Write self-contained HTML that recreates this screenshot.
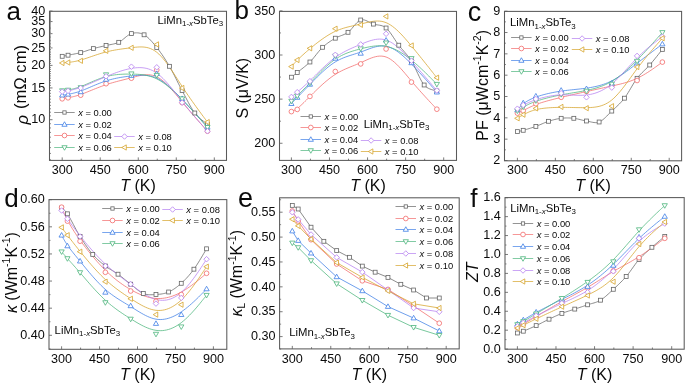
<!DOCTYPE html>
<html><head><meta charset="utf-8"><style>
html,body{margin:0;padding:0;background:#fff;width:685px;height:384px;overflow:hidden}
svg{display:block;will-change:transform;filter:blur(0.3px)}
text{font-family:"Liberation Sans", sans-serif;fill:#0a0a0a}
</style></head><body>
<svg width="685" height="384" viewBox="0 0 685 384">
<rect width="685" height="384" fill="#fff"/>
<rect x="49.5" y="11.3" width="177" height="149.1" fill="none" stroke="#5a5a5a" stroke-width="1.05"/>
<line x1="62.2" y1="160.4" x2="62.2" y2="157.4" stroke="#5a5a5a" stroke-width="0.8"/>
<text x="62.2" y="174" font-size="12.6" text-anchor="middle">300</text>
<line x1="100.23" y1="160.4" x2="100.23" y2="157.4" stroke="#5a5a5a" stroke-width="0.8"/>
<text x="100.23" y="174" font-size="12.6" text-anchor="middle">450</text>
<line x1="138.25" y1="160.4" x2="138.25" y2="157.4" stroke="#5a5a5a" stroke-width="0.8"/>
<text x="138.25" y="174" font-size="12.6" text-anchor="middle">600</text>
<line x1="176.28" y1="160.4" x2="176.28" y2="157.4" stroke="#5a5a5a" stroke-width="0.8"/>
<text x="176.28" y="174" font-size="12.6" text-anchor="middle">750</text>
<line x1="214.3" y1="160.4" x2="214.3" y2="157.4" stroke="#5a5a5a" stroke-width="0.8"/>
<text x="214.3" y="174" font-size="12.6" text-anchor="middle">900</text>
<line x1="81.21" y1="160.4" x2="81.21" y2="158.7" stroke="#5a5a5a" stroke-width="0.8"/>
<line x1="119.24" y1="160.4" x2="119.24" y2="158.7" stroke="#5a5a5a" stroke-width="0.8"/>
<line x1="157.26" y1="160.4" x2="157.26" y2="158.7" stroke="#5a5a5a" stroke-width="0.8"/>
<line x1="195.29" y1="160.4" x2="195.29" y2="158.7" stroke="#5a5a5a" stroke-width="0.8"/>
<text x="138" y="191" font-size="16" text-anchor="middle"><tspan font-style="italic">T</tspan> (K)</text>
<line x1="49.5" y1="119.7" x2="52.5" y2="119.7" stroke="#5a5a5a" stroke-width="0.8"/>
<text x="45.3" y="123.4" font-size="12.6" text-anchor="end">10</text>
<line x1="49.5" y1="87.94" x2="52.5" y2="87.94" stroke="#5a5a5a" stroke-width="0.8"/>
<text x="45.3" y="91.64" font-size="12.6" text-anchor="end">15</text>
<line x1="49.5" y1="65.4" x2="52.5" y2="65.4" stroke="#5a5a5a" stroke-width="0.8"/>
<text x="45.3" y="69.1" font-size="12.6" text-anchor="end">20</text>
<line x1="49.5" y1="47.92" x2="52.5" y2="47.92" stroke="#5a5a5a" stroke-width="0.8"/>
<text x="45.3" y="51.62" font-size="12.6" text-anchor="end">25</text>
<line x1="49.5" y1="33.64" x2="52.5" y2="33.64" stroke="#5a5a5a" stroke-width="0.8"/>
<text x="45.3" y="37.34" font-size="12.6" text-anchor="end">30</text>
<line x1="49.5" y1="21.56" x2="52.5" y2="21.56" stroke="#5a5a5a" stroke-width="0.8"/>
<text x="45.3" y="25.26" font-size="12.6" text-anchor="end">35</text>
<line x1="49.5" y1="11.1" x2="52.5" y2="11.1" stroke="#5a5a5a" stroke-width="0.8"/>
<text x="45.3" y="14.8" font-size="12.6" text-anchor="end">40</text>
<line x1="49.5" y1="159.72" x2="51" y2="159.72" stroke="#5a5a5a" stroke-width="0.7"/>
<line x1="49.5" y1="153.45" x2="51" y2="153.45" stroke="#5a5a5a" stroke-width="0.7"/>
<line x1="49.5" y1="147.64" x2="51" y2="147.64" stroke="#5a5a5a" stroke-width="0.7"/>
<line x1="49.5" y1="142.24" x2="51" y2="142.24" stroke="#5a5a5a" stroke-width="0.7"/>
<line x1="49.5" y1="137.18" x2="51" y2="137.18" stroke="#5a5a5a" stroke-width="0.7"/>
<line x1="49.5" y1="132.43" x2="51" y2="132.43" stroke="#5a5a5a" stroke-width="0.7"/>
<line x1="49.5" y1="127.95" x2="51" y2="127.95" stroke="#5a5a5a" stroke-width="0.7"/>
<line x1="49.5" y1="123.72" x2="51" y2="123.72" stroke="#5a5a5a" stroke-width="0.7"/>
<line x1="49.5" y1="115.88" x2="51" y2="115.88" stroke="#5a5a5a" stroke-width="0.7"/>
<line x1="49.5" y1="112.23" x2="51" y2="112.23" stroke="#5a5a5a" stroke-width="0.7"/>
<line x1="49.5" y1="108.75" x2="51" y2="108.75" stroke="#5a5a5a" stroke-width="0.7"/>
<line x1="49.5" y1="105.42" x2="51" y2="105.42" stroke="#5a5a5a" stroke-width="0.7"/>
<line x1="49.5" y1="102.22" x2="51" y2="102.22" stroke="#5a5a5a" stroke-width="0.7"/>
<line x1="49.5" y1="99.15" x2="51" y2="99.15" stroke="#5a5a5a" stroke-width="0.7"/>
<line x1="49.5" y1="96.19" x2="51" y2="96.19" stroke="#5a5a5a" stroke-width="0.7"/>
<line x1="49.5" y1="93.34" x2="51" y2="93.34" stroke="#5a5a5a" stroke-width="0.7"/>
<line x1="49.5" y1="90.59" x2="51" y2="90.59" stroke="#5a5a5a" stroke-width="0.7"/>
<line x1="49.5" y1="85.37" x2="51" y2="85.37" stroke="#5a5a5a" stroke-width="0.7"/>
<line x1="49.5" y1="82.88" x2="51" y2="82.88" stroke="#5a5a5a" stroke-width="0.7"/>
<line x1="49.5" y1="80.47" x2="51" y2="80.47" stroke="#5a5a5a" stroke-width="0.7"/>
<line x1="49.5" y1="78.13" x2="51" y2="78.13" stroke="#5a5a5a" stroke-width="0.7"/>
<line x1="49.5" y1="75.86" x2="51" y2="75.86" stroke="#5a5a5a" stroke-width="0.7"/>
<line x1="49.5" y1="73.65" x2="51" y2="73.65" stroke="#5a5a5a" stroke-width="0.7"/>
<line x1="49.5" y1="71.51" x2="51" y2="71.51" stroke="#5a5a5a" stroke-width="0.7"/>
<line x1="49.5" y1="69.42" x2="51" y2="69.42" stroke="#5a5a5a" stroke-width="0.7"/>
<line x1="49.5" y1="67.38" x2="51" y2="67.38" stroke="#5a5a5a" stroke-width="0.7"/>
<line x1="49.5" y1="63.47" x2="51" y2="63.47" stroke="#5a5a5a" stroke-width="0.7"/>
<line x1="49.5" y1="61.58" x2="51" y2="61.58" stroke="#5a5a5a" stroke-width="0.7"/>
<line x1="49.5" y1="59.73" x2="51" y2="59.73" stroke="#5a5a5a" stroke-width="0.7"/>
<line x1="49.5" y1="57.93" x2="51" y2="57.93" stroke="#5a5a5a" stroke-width="0.7"/>
<line x1="49.5" y1="56.17" x2="51" y2="56.17" stroke="#5a5a5a" stroke-width="0.7"/>
<line x1="49.5" y1="54.45" x2="51" y2="54.45" stroke="#5a5a5a" stroke-width="0.7"/>
<line x1="49.5" y1="52.77" x2="51" y2="52.77" stroke="#5a5a5a" stroke-width="0.7"/>
<line x1="49.5" y1="51.12" x2="51" y2="51.12" stroke="#5a5a5a" stroke-width="0.7"/>
<line x1="49.5" y1="49.5" x2="51" y2="49.5" stroke="#5a5a5a" stroke-width="0.7"/>
<line x1="49.5" y1="46.37" x2="51" y2="46.37" stroke="#5a5a5a" stroke-width="0.7"/>
<line x1="49.5" y1="44.85" x2="51" y2="44.85" stroke="#5a5a5a" stroke-width="0.7"/>
<line x1="49.5" y1="43.35" x2="51" y2="43.35" stroke="#5a5a5a" stroke-width="0.7"/>
<line x1="49.5" y1="41.89" x2="51" y2="41.89" stroke="#5a5a5a" stroke-width="0.7"/>
<line x1="49.5" y1="40.45" x2="51" y2="40.45" stroke="#5a5a5a" stroke-width="0.7"/>
<line x1="49.5" y1="39.04" x2="51" y2="39.04" stroke="#5a5a5a" stroke-width="0.7"/>
<line x1="49.5" y1="37.65" x2="51" y2="37.65" stroke="#5a5a5a" stroke-width="0.7"/>
<line x1="49.5" y1="36.29" x2="51" y2="36.29" stroke="#5a5a5a" stroke-width="0.7"/>
<line x1="49.5" y1="34.95" x2="51" y2="34.95" stroke="#5a5a5a" stroke-width="0.7"/>
<line x1="49.5" y1="32.34" x2="51" y2="32.34" stroke="#5a5a5a" stroke-width="0.7"/>
<line x1="49.5" y1="31.07" x2="51" y2="31.07" stroke="#5a5a5a" stroke-width="0.7"/>
<line x1="49.5" y1="29.81" x2="51" y2="29.81" stroke="#5a5a5a" stroke-width="0.7"/>
<line x1="49.5" y1="28.58" x2="51" y2="28.58" stroke="#5a5a5a" stroke-width="0.7"/>
<line x1="49.5" y1="27.37" x2="51" y2="27.37" stroke="#5a5a5a" stroke-width="0.7"/>
<line x1="49.5" y1="26.17" x2="51" y2="26.17" stroke="#5a5a5a" stroke-width="0.7"/>
<line x1="49.5" y1="24.99" x2="51" y2="24.99" stroke="#5a5a5a" stroke-width="0.7"/>
<line x1="49.5" y1="23.83" x2="51" y2="23.83" stroke="#5a5a5a" stroke-width="0.7"/>
<line x1="49.5" y1="22.69" x2="51" y2="22.69" stroke="#5a5a5a" stroke-width="0.7"/>
<line x1="49.5" y1="20.45" x2="51" y2="20.45" stroke="#5a5a5a" stroke-width="0.7"/>
<line x1="49.5" y1="19.35" x2="51" y2="19.35" stroke="#5a5a5a" stroke-width="0.7"/>
<line x1="49.5" y1="18.27" x2="51" y2="18.27" stroke="#5a5a5a" stroke-width="0.7"/>
<line x1="49.5" y1="17.21" x2="51" y2="17.21" stroke="#5a5a5a" stroke-width="0.7"/>
<line x1="49.5" y1="16.16" x2="51" y2="16.16" stroke="#5a5a5a" stroke-width="0.7"/>
<line x1="49.5" y1="15.12" x2="51" y2="15.12" stroke="#5a5a5a" stroke-width="0.7"/>
<line x1="49.5" y1="14.09" x2="51" y2="14.09" stroke="#5a5a5a" stroke-width="0.7"/>
<line x1="49.5" y1="13.08" x2="51" y2="13.08" stroke="#5a5a5a" stroke-width="0.7"/>
<line x1="49.5" y1="12.09" x2="51" y2="12.09" stroke="#5a5a5a" stroke-width="0.7"/>
<text x="6.5" y="19.9" font-size="26">a</text>
<path d="M62.2,56.3 L62.52,56.24 L62.88,56.17 L63.31,56.1 L63.78,56.01 L64.32,55.91 L64.93,55.8 L65.59,55.67 L66.33,55.53 L67.14,55.38 L68.03,55.2 L69.02,55.01 L70.13,54.8 L71.33,54.57 L72.61,54.34 L73.94,54.08 L75.31,53.81 L76.69,53.53 L78.06,53.23 L79.41,52.92 L80.71,52.6 L81.97,52.25 L83.24,51.88 L84.51,51.47 L85.78,51.06 L87.04,50.63 L88.31,50.2 L89.58,49.78 L90.85,49.36 L92.11,48.97 L93.38,48.6 L94.65,48.25 L95.92,47.92 L97.18,47.61 L98.45,47.3 L99.72,47 L100.99,46.7 L102.25,46.41 L103.52,46.11 L104.79,45.81 L106.06,45.5 L107.32,45.21 L108.59,44.95 L109.86,44.72 L111.13,44.49 L112.39,44.25 L113.66,43.98 L114.93,43.67 L116.2,43.29 L117.46,42.84 L118.73,42.3 L120,41.61 L121.27,40.75 L122.53,39.78 L123.8,38.74 L125.07,37.67 L126.34,36.63 L127.6,35.66 L128.87,34.79 L130.14,34.09 L131.41,33.6 L132.67,33.27 L133.94,33.02 L135.21,32.87 L136.48,32.82 L137.74,32.86 L139.01,33.02 L140.28,33.28 L141.55,33.67 L142.81,34.17 L144.08,34.8 L145.35,35.58 L146.62,36.51 L147.88,37.57 L149.15,38.76 L150.42,40.05 L151.69,41.43 L152.95,42.88 L154.22,44.39 L155.49,45.93 L156.76,47.5 L158.02,49.11 L159.29,50.78 L160.56,52.52 L161.83,54.32 L163.09,56.17 L164.36,58.09 L165.63,60.06 L166.9,62.09 L168.16,64.17 L169.43,66.3 L170.7,68.52 L171.97,70.84 L173.23,73.25 L174.5,75.72 L175.77,78.22 L177.04,80.75 L178.3,83.28 L179.57,85.77 L180.84,88.22 L182.11,90.6 L183.37,92.97 L184.64,95.38 L185.91,97.81 L187.18,100.23 L188.44,102.61 L189.71,104.93 L190.98,107.16 L192.25,109.26 L193.51,111.22 L194.78,113 L196.11,114.63 L197.52,116.15 L198.98,117.56 L200.46,118.86 L201.91,120.05 L203.3,121.13 L204.58,122.09 L205.73,122.94 L206.7,123.68 L207.46,124.3" fill="none" stroke="#666666" stroke-width="0.75"/>
<path d="M62.2,98.8 L62.2,98.8 L62.2,98.8 L62.22,98.8 L62.24,98.79 L62.27,98.79 L62.32,98.78 L62.39,98.77 L62.49,98.75 L62.61,98.73 L62.76,98.7 L62.95,98.67 L63.17,98.63 L63.44,98.59 L63.74,98.54 L64.09,98.48 L64.47,98.41 L64.9,98.33 L65.38,98.25 L65.9,98.15 L66.46,98.05 L67.07,97.93 L67.72,97.81 L68.42,97.68 L69.17,97.53 L69.97,97.38 L70.81,97.21 L71.71,97.01 L72.67,96.8 L73.69,96.56 L74.77,96.28 L75.93,95.97 L77.15,95.62 L78.45,95.22 L79.82,94.77 L81.28,94.27 L82.82,93.72 L84.45,93.1 L86.15,92.43 L87.93,91.71 L89.78,90.96 L91.69,90.19 L93.64,89.39 L95.65,88.58 L97.68,87.77 L99.75,86.97 L101.84,86.19 L103.94,85.43 L106.06,84.7 L108.17,84.01 L110.28,83.36 L112.39,82.74 L114.51,82.15 L116.62,81.57 L118.73,81.02 L120.84,80.47 L122.96,79.94 L125.07,79.4 L127.18,78.86 L129.29,78.31 L131.41,77.75 L133.52,77.17 L135.63,76.6 L137.74,76.07 L139.86,75.59 L141.97,75.19 L144.08,74.89 L146.19,74.73 L148.31,74.73 L150.42,74.91 L152.53,75.3 L154.64,75.92 L156.76,76.8 L158.87,77.95 L160.98,79.37 L163.09,81.01 L165.21,82.86 L167.32,84.88 L169.43,87.07 L171.54,89.38 L173.66,91.79 L175.77,94.27 L177.88,96.81 L179.99,99.37 L182.11,101.93 L184.22,104.47 L186.31,106.96 L188.38,109.39 L190.4,111.76 L192.36,114.04 L194.25,116.22 L196.05,118.29 L197.75,120.23 L199.34,122.03 L200.79,123.67 L202.09,125.14 L203.23,126.43 L204.2,127.53 L205.01,128.44 L205.67,129.19 L206.2,129.79 L206.62,130.25 L206.93,130.6 L207.15,130.86 L207.3,131.02 L207.39,131.13 L207.44,131.18 L207.45,131.2 L207.46,131.2" fill="none" stroke="#f26a6a" stroke-width="0.75"/>
<path d="M62.2,95.2 L62.2,95.2 L62.2,95.2 L62.22,95.2 L62.24,95.19 L62.27,95.19 L62.32,95.18 L62.39,95.17 L62.49,95.16 L62.61,95.14 L62.76,95.11 L62.95,95.08 L63.17,95.05 L63.44,95.01 L63.74,94.96 L64.09,94.91 L64.47,94.85 L64.9,94.78 L65.38,94.7 L65.9,94.61 L66.46,94.52 L67.07,94.42 L67.72,94.3 L68.42,94.18 L69.17,94.05 L69.97,93.91 L70.81,93.75 L71.71,93.57 L72.67,93.36 L73.69,93.13 L74.77,92.86 L75.93,92.55 L77.15,92.2 L78.45,91.79 L79.82,91.33 L81.28,90.82 L82.82,90.23 L84.45,89.58 L86.15,88.88 L87.93,88.12 L89.78,87.33 L91.69,86.5 L93.64,85.67 L95.65,84.83 L97.68,83.99 L99.75,83.17 L101.84,82.38 L103.94,81.62 L106.06,80.92 L108.17,80.27 L110.28,79.67 L112.39,79.13 L114.51,78.63 L116.62,78.18 L118.73,77.77 L120.84,77.39 L122.96,77.05 L125.07,76.74 L127.18,76.45 L129.29,76.18 L131.41,75.93 L133.52,75.7 L135.63,75.5 L137.74,75.34 L139.86,75.23 L141.97,75.2 L144.08,75.25 L146.19,75.41 L148.31,75.67 L150.42,76.07 L152.53,76.61 L154.64,77.31 L156.76,78.18 L158.87,79.24 L160.98,80.46 L163.09,81.85 L165.21,83.38 L167.32,85.05 L169.43,86.84 L171.54,88.73 L173.66,90.71 L175.77,92.77 L177.88,94.9 L179.99,97.08 L182.11,99.3 L184.22,101.54 L186.31,103.79 L188.38,106.03 L190.4,108.23 L192.36,110.39 L194.25,112.48 L196.05,114.48 L197.75,116.38 L199.34,118.15 L200.79,119.78 L202.09,121.25 L203.23,122.53 L204.2,123.63 L205.01,124.54 L205.67,125.29 L206.2,125.89 L206.62,126.35 L206.93,126.7 L207.15,126.96 L207.3,127.12 L207.39,127.23 L207.44,127.28 L207.45,127.3 L207.46,127.3" fill="none" stroke="#3f7fe6" stroke-width="0.75"/>
<path d="M62.2,90.6 L62.2,90.6 L62.2,90.6 L62.22,90.6 L62.24,90.6 L62.27,90.59 L62.32,90.59 L62.39,90.58 L62.49,90.57 L62.61,90.56 L62.76,90.54 L62.95,90.52 L63.17,90.5 L63.44,90.47 L63.74,90.44 L64.09,90.4 L64.47,90.36 L64.9,90.31 L65.38,90.25 L65.9,90.18 L66.46,90.1 L67.07,90.01 L67.72,89.92 L68.42,89.81 L69.17,89.68 L69.97,89.55 L70.81,89.39 L71.71,89.21 L72.67,89.01 L73.69,88.77 L74.77,88.49 L75.93,88.17 L77.15,87.81 L78.45,87.39 L79.82,86.91 L81.28,86.37 L82.82,85.77 L84.45,85.09 L86.15,84.36 L87.93,83.58 L89.78,82.76 L91.69,81.93 L93.64,81.08 L95.65,80.25 L97.68,79.43 L99.75,78.64 L101.84,77.9 L103.94,77.21 L106.06,76.6 L108.17,76.07 L110.28,75.61 L112.39,75.23 L114.51,74.91 L116.62,74.65 L118.73,74.45 L120.84,74.3 L122.96,74.19 L125.07,74.12 L127.18,74.09 L129.29,74.08 L131.41,74.1 L133.52,74.14 L135.63,74.2 L137.74,74.3 L139.86,74.45 L141.97,74.67 L144.08,74.96 L146.19,75.33 L148.31,75.8 L150.42,76.38 L152.53,77.07 L154.64,77.9 L156.76,78.87 L158.87,79.98 L160.98,81.24 L163.09,82.64 L165.21,84.15 L167.32,85.78 L169.43,87.51 L171.54,89.34 L173.66,91.25 L175.77,93.24 L177.88,95.29 L179.99,97.4 L182.11,99.55 L184.22,101.74 L186.31,103.94 L188.38,106.13 L190.4,108.31 L192.36,110.44 L194.25,112.51 L196.05,114.5 L197.75,116.39 L199.34,118.15 L200.79,119.78 L202.09,121.25 L203.23,122.53 L204.2,123.63 L205.01,124.54 L205.67,125.29 L206.2,125.89 L206.62,126.35 L206.93,126.7 L207.15,126.96 L207.3,127.12 L207.39,127.23 L207.44,127.28 L207.45,127.3 L207.46,127.3" fill="none" stroke="#4cb57c" stroke-width="0.75"/>
<path d="M62.2,91.7 L62.2,91.7 L62.2,91.7 L62.22,91.7 L62.24,91.7 L62.27,91.69 L62.32,91.68 L62.39,91.67 L62.49,91.66 L62.61,91.64 L62.76,91.62 L62.95,91.6 L63.17,91.57 L63.44,91.53 L63.74,91.49 L64.09,91.44 L64.47,91.38 L64.9,91.31 L65.38,91.24 L65.9,91.15 L66.46,91.06 L67.07,90.95 L67.72,90.83 L68.42,90.7 L69.17,90.55 L69.97,90.39 L70.81,90.21 L71.71,90 L72.67,89.78 L73.69,89.52 L74.77,89.22 L75.93,88.89 L77.15,88.52 L78.45,88.1 L79.82,87.63 L81.28,87.11 L82.82,86.53 L84.45,85.9 L86.15,85.2 L87.93,84.46 L89.78,83.68 L91.69,82.86 L93.64,82.01 L95.65,81.14 L97.68,80.25 L99.75,79.35 L101.84,78.45 L103.94,77.54 L106.06,76.65 L108.17,75.77 L110.28,74.91 L112.39,74.07 L114.51,73.27 L116.62,72.49 L118.73,71.76 L120.84,71.06 L122.96,70.42 L125.07,69.82 L127.18,69.29 L129.29,68.81 L131.41,68.4 L133.52,68.06 L135.63,67.81 L137.74,67.66 L139.86,67.62 L141.97,67.71 L144.08,67.94 L146.19,68.32 L148.31,68.88 L150.42,69.62 L152.53,70.55 L154.64,71.71 L156.76,73.08 L158.87,74.7 L160.98,76.52 L163.09,78.55 L165.21,80.74 L167.32,83.08 L169.43,85.53 L171.54,88.09 L173.66,90.72 L175.77,93.39 L177.88,96.1 L179.99,98.8 L182.11,101.48 L184.22,104.12 L186.31,106.7 L188.38,109.2 L190.4,111.63 L192.36,113.95 L194.25,116.16 L196.05,118.26 L197.75,120.21 L199.34,122.02 L200.79,123.67 L202.09,125.14 L203.23,126.43 L204.2,127.53 L205.01,128.44 L205.67,129.19 L206.2,129.79 L206.62,130.25 L206.93,130.6 L207.15,130.86 L207.3,131.02 L207.39,131.13 L207.44,131.18 L207.45,131.2 L207.46,131.2" fill="none" stroke="#b57ff0" stroke-width="0.75"/>
<path d="M62.2,63 L62.2,63 L62.2,63 L62.22,63 L62.24,63 L62.27,62.99 L62.32,62.99 L62.39,62.98 L62.49,62.98 L62.61,62.96 L62.76,62.95 L62.95,62.94 L63.17,62.92 L63.44,62.89 L63.74,62.87 L64.09,62.84 L64.47,62.8 L64.9,62.76 L65.38,62.71 L65.9,62.66 L66.46,62.6 L67.07,62.54 L67.72,62.47 L68.42,62.39 L69.17,62.3 L69.97,62.2 L70.81,62.09 L71.71,61.97 L72.67,61.82 L73.69,61.65 L74.77,61.45 L75.93,61.22 L77.15,60.95 L78.45,60.64 L79.82,60.28 L81.28,59.88 L82.82,59.42 L84.45,58.9 L86.15,58.34 L87.93,57.73 L89.78,57.1 L91.69,56.44 L93.64,55.77 L95.65,55.1 L97.68,54.43 L99.75,53.77 L101.84,53.14 L103.94,52.53 L106.06,51.97 L108.17,51.45 L110.28,50.97 L112.39,50.54 L114.51,50.14 L116.62,49.78 L118.73,49.44 L120.84,49.12 L122.96,48.82 L125.07,48.54 L127.18,48.27 L129.29,48 L131.41,47.73 L133.52,47.47 L135.63,47.23 L137.74,47.04 L139.86,46.94 L141.97,46.94 L144.08,47.07 L146.19,47.37 L148.31,47.85 L150.42,48.55 L152.53,49.5 L154.64,50.72 L156.76,52.23 L158.87,54.07 L160.98,56.19 L163.09,58.58 L165.21,61.2 L167.32,64.01 L169.43,66.98 L171.54,70.09 L173.66,73.29 L175.77,76.55 L177.88,79.85 L179.99,83.15 L182.11,86.42 L184.22,89.62 L186.31,92.74 L188.38,95.77 L190.4,98.69 L192.36,101.48 L194.25,104.14 L196.05,106.65 L197.75,108.99 L199.34,111.15 L200.79,113.12 L202.09,114.88 L203.23,116.42 L204.2,117.72 L205.01,118.81 L205.67,119.7 L206.2,120.42 L206.62,120.97 L206.93,121.39 L207.15,121.69 L207.3,121.89 L207.39,122.01 L207.44,122.07 L207.45,122.1 L207.46,122.1" fill="none" stroke="#d6a32a" stroke-width="0.75"/>
<rect x="60.25" y="54.35" width="3.9" height="3.9" fill="#fff" stroke="#666666" stroke-width="0.8"/>
<rect x="66.08" y="53.25" width="3.9" height="3.9" fill="#fff" stroke="#666666" stroke-width="0.8"/>
<rect x="78.76" y="50.65" width="3.9" height="3.9" fill="#fff" stroke="#666666" stroke-width="0.8"/>
<rect x="91.43" y="46.65" width="3.9" height="3.9" fill="#fff" stroke="#666666" stroke-width="0.8"/>
<rect x="104.11" y="43.55" width="3.9" height="3.9" fill="#fff" stroke="#666666" stroke-width="0.8"/>
<rect x="116.78" y="40.35" width="3.9" height="3.9" fill="#fff" stroke="#666666" stroke-width="0.8"/>
<rect x="129.46" y="31.65" width="3.9" height="3.9" fill="#fff" stroke="#666666" stroke-width="0.8"/>
<rect x="142.13" y="32.85" width="3.9" height="3.9" fill="#fff" stroke="#666666" stroke-width="0.8"/>
<rect x="154.81" y="45.55" width="3.9" height="3.9" fill="#fff" stroke="#666666" stroke-width="0.8"/>
<rect x="167.48" y="64.35" width="3.9" height="3.9" fill="#fff" stroke="#666666" stroke-width="0.8"/>
<rect x="180.16" y="88.65" width="3.9" height="3.9" fill="#fff" stroke="#666666" stroke-width="0.8"/>
<rect x="192.83" y="111.05" width="3.9" height="3.9" fill="#fff" stroke="#666666" stroke-width="0.8"/>
<rect x="205.51" y="122.35" width="3.9" height="3.9" fill="#fff" stroke="#666666" stroke-width="0.8"/>
<circle cx="62.2" cy="98.8" r="2.35" fill="#fff" stroke="#f26a6a" stroke-width="0.8"/>
<circle cx="68.03" cy="97.8" r="2.35" fill="#fff" stroke="#f26a6a" stroke-width="0.8"/>
<circle cx="80.71" cy="95.2" r="2.35" fill="#fff" stroke="#f26a6a" stroke-width="0.8"/>
<circle cx="106.06" cy="83.7" r="2.35" fill="#fff" stroke="#f26a6a" stroke-width="0.8"/>
<circle cx="131.41" cy="78.2" r="2.35" fill="#fff" stroke="#f26a6a" stroke-width="0.8"/>
<circle cx="156.76" cy="70" r="2.35" fill="#fff" stroke="#f26a6a" stroke-width="0.8"/>
<circle cx="182.11" cy="102.6" r="2.35" fill="#fff" stroke="#f26a6a" stroke-width="0.8"/>
<circle cx="207.46" cy="131.2" r="2.35" fill="#fff" stroke="#f26a6a" stroke-width="0.8"/>
<polygon points="62.2,92.45 64.81,96.99 59.59,96.99" fill="#fff" stroke="#3f7fe6" stroke-width="0.8"/>
<polygon points="68.03,91.55 70.64,96.09 65.42,96.09" fill="#fff" stroke="#3f7fe6" stroke-width="0.8"/>
<polygon points="80.71,89.15 83.32,93.69 78.09,93.69" fill="#fff" stroke="#3f7fe6" stroke-width="0.8"/>
<polygon points="106.06,76.75 108.67,81.29 103.44,81.29" fill="#fff" stroke="#3f7fe6" stroke-width="0.8"/>
<polygon points="131.41,72.85 134.02,77.39 128.79,77.39" fill="#fff" stroke="#3f7fe6" stroke-width="0.8"/>
<polygon points="156.76,70.95 159.37,75.49 154.14,75.49" fill="#fff" stroke="#3f7fe6" stroke-width="0.8"/>
<polygon points="182.11,95.95 184.72,100.49 179.49,100.49" fill="#fff" stroke="#3f7fe6" stroke-width="0.8"/>
<polygon points="207.46,124.55 210.07,129.09 204.84,129.09" fill="#fff" stroke="#3f7fe6" stroke-width="0.8"/>
<polygon points="62.2,93.35 64.81,88.81 59.59,88.81" fill="#fff" stroke="#4cb57c" stroke-width="0.8"/>
<polygon points="68.03,92.75 70.64,88.21 65.42,88.21" fill="#fff" stroke="#4cb57c" stroke-width="0.8"/>
<polygon points="80.71,90.25 83.32,85.71 78.09,85.71" fill="#fff" stroke="#4cb57c" stroke-width="0.8"/>
<polygon points="106.06,77.35 108.67,72.81 103.44,72.81" fill="#fff" stroke="#4cb57c" stroke-width="0.8"/>
<polygon points="131.41,76.45 134.02,71.91 128.79,71.91" fill="#fff" stroke="#4cb57c" stroke-width="0.8"/>
<polygon points="156.76,77.95 159.37,73.41 154.14,73.41" fill="#fff" stroke="#4cb57c" stroke-width="0.8"/>
<polygon points="182.11,101.45 184.72,96.91 179.49,96.91" fill="#fff" stroke="#4cb57c" stroke-width="0.8"/>
<polygon points="207.46,130.05 210.07,125.51 204.84,125.51" fill="#fff" stroke="#4cb57c" stroke-width="0.8"/>
<polygon points="62.2,88.95 64.95,91.7 62.2,94.45 59.45,91.7" fill="#fff" stroke="#b57ff0" stroke-width="0.8"/>
<polygon points="68.03,88.15 70.78,90.9 68.03,93.65 65.28,90.9" fill="#fff" stroke="#b57ff0" stroke-width="0.8"/>
<polygon points="80.71,85.25 83.46,88 80.71,90.75 77.96,88" fill="#fff" stroke="#b57ff0" stroke-width="0.8"/>
<polygon points="106.06,73.55 108.81,76.3 106.06,79.05 103.31,76.3" fill="#fff" stroke="#b57ff0" stroke-width="0.8"/>
<polygon points="131.41,63.95 134.16,66.7 131.41,69.45 128.66,66.7" fill="#fff" stroke="#b57ff0" stroke-width="0.8"/>
<polygon points="156.76,64.55 159.51,67.3 156.76,70.05 154.01,67.3" fill="#fff" stroke="#b57ff0" stroke-width="0.8"/>
<polygon points="182.11,99.85 184.86,102.6 182.11,105.35 179.36,102.6" fill="#fff" stroke="#b57ff0" stroke-width="0.8"/>
<polygon points="207.46,128.45 210.21,131.2 207.46,133.95 204.71,131.2" fill="#fff" stroke="#b57ff0" stroke-width="0.8"/>
<polygon points="59.45,63 63.99,60.39 63.99,65.61" fill="#fff" stroke="#d6a32a" stroke-width="0.8"/>
<polygon points="65.28,62.5 69.82,59.89 69.82,65.11" fill="#fff" stroke="#d6a32a" stroke-width="0.8"/>
<polygon points="77.96,60.8 82.49,58.19 82.49,63.41" fill="#fff" stroke="#d6a32a" stroke-width="0.8"/>
<polygon points="103.31,50.8 107.84,48.19 107.84,53.41" fill="#fff" stroke="#d6a32a" stroke-width="0.8"/>
<polygon points="128.66,47.8 133.19,45.19 133.19,50.41" fill="#fff" stroke="#d6a32a" stroke-width="0.8"/>
<polygon points="154.01,44.4 158.54,41.79 158.54,47.01" fill="#fff" stroke="#d6a32a" stroke-width="0.8"/>
<polygon points="179.36,88 183.89,85.39 183.89,90.61" fill="#fff" stroke="#d6a32a" stroke-width="0.8"/>
<polygon points="204.71,122.1 209.24,119.49 209.24,124.71" fill="#fff" stroke="#d6a32a" stroke-width="0.8"/>
<text x="157.5" y="23.8" font-size="11.3">LiMn<tspan font-size="7.9" dy="2.6">1-<tspan font-style="italic">x</tspan></tspan><tspan dy="-2.6">SbTe</tspan><tspan font-size="7.9" dy="2.6">3</tspan></text>
<line x1="54.2" y1="112.5" x2="74.7" y2="112.5" stroke="#666666" stroke-width="0.7"/>
<rect x="62.84" y="110.84" width="3.31" height="3.31" fill="#fff" stroke="#666666" stroke-width="0.8"/>
<text x="78.2" y="115.8" font-size="9.4"><tspan font-style="italic">x</tspan> = 0.00</text>
<line x1="54.2" y1="124.5" x2="74.7" y2="124.5" stroke="#3f7fe6" stroke-width="0.7"/>
<polygon points="64.5,121.75 67.11,126.29 61.89,126.29" fill="#fff" stroke="#3f7fe6" stroke-width="0.8"/>
<text x="78.2" y="127.8" font-size="9.4"><tspan font-style="italic">x</tspan> = 0.02</text>
<line x1="54.2" y1="135.5" x2="74.7" y2="135.5" stroke="#f26a6a" stroke-width="0.7"/>
<circle cx="64.5" cy="135.5" r="2.35" fill="#fff" stroke="#f26a6a" stroke-width="0.8"/>
<text x="78.2" y="138.8" font-size="9.4"><tspan font-style="italic">x</tspan> = 0.04</text>
<line x1="54.2" y1="147.5" x2="74.7" y2="147.5" stroke="#4cb57c" stroke-width="0.7"/>
<polygon points="64.5,150.25 67.11,145.71 61.89,145.71" fill="#fff" stroke="#4cb57c" stroke-width="0.8"/>
<text x="78.2" y="150.8" font-size="9.4"><tspan font-style="italic">x</tspan> = 0.06</text>
<line x1="114.2" y1="136.5" x2="134.7" y2="136.5" stroke="#b57ff0" stroke-width="0.7"/>
<polygon points="124.5,133.75 127.25,136.5 124.5,139.25 121.75,136.5" fill="#fff" stroke="#b57ff0" stroke-width="0.8"/>
<text x="138.2" y="139.8" font-size="9.4"><tspan font-style="italic">x</tspan> = 0.08</text>
<line x1="114.2" y1="147.5" x2="134.7" y2="147.5" stroke="#d6a32a" stroke-width="0.7"/>
<polygon points="121.75,147.5 126.29,144.89 126.29,150.11" fill="#fff" stroke="#d6a32a" stroke-width="0.8"/>
<text x="138.2" y="150.8" font-size="9.4"><tspan font-style="italic">x</tspan> = 0.10</text>
<text transform="translate(27.6,124.6) rotate(-90)" font-size="16.6"><tspan font-style="italic">ρ</tspan></text>
<text transform="translate(26.4,109.0) rotate(-90)" font-size="16.6">(mΩ cm)</text>
<rect x="279.5" y="11.4" width="177" height="149" fill="none" stroke="#5a5a5a" stroke-width="1.05"/>
<line x1="291.4" y1="160.4" x2="291.4" y2="157.4" stroke="#5a5a5a" stroke-width="0.8"/>
<text x="291.4" y="174" font-size="12.6" text-anchor="middle">300</text>
<line x1="329.47" y1="160.4" x2="329.47" y2="157.4" stroke="#5a5a5a" stroke-width="0.8"/>
<text x="329.47" y="174" font-size="12.6" text-anchor="middle">450</text>
<line x1="367.55" y1="160.4" x2="367.55" y2="157.4" stroke="#5a5a5a" stroke-width="0.8"/>
<text x="367.55" y="174" font-size="12.6" text-anchor="middle">600</text>
<line x1="405.62" y1="160.4" x2="405.62" y2="157.4" stroke="#5a5a5a" stroke-width="0.8"/>
<text x="405.62" y="174" font-size="12.6" text-anchor="middle">750</text>
<line x1="443.7" y1="160.4" x2="443.7" y2="157.4" stroke="#5a5a5a" stroke-width="0.8"/>
<text x="443.7" y="174" font-size="12.6" text-anchor="middle">900</text>
<line x1="310.44" y1="160.4" x2="310.44" y2="158.7" stroke="#5a5a5a" stroke-width="0.8"/>
<line x1="348.51" y1="160.4" x2="348.51" y2="158.7" stroke="#5a5a5a" stroke-width="0.8"/>
<line x1="386.59" y1="160.4" x2="386.59" y2="158.7" stroke="#5a5a5a" stroke-width="0.8"/>
<line x1="424.66" y1="160.4" x2="424.66" y2="158.7" stroke="#5a5a5a" stroke-width="0.8"/>
<text x="368" y="191" font-size="16" text-anchor="middle"><tspan font-style="italic">T</tspan> (K)</text>
<line x1="279.5" y1="143.25" x2="282.5" y2="143.25" stroke="#5a5a5a" stroke-width="0.8"/>
<text x="275.3" y="146.95" font-size="12.6" text-anchor="end">200</text>
<line x1="279.5" y1="99.12" x2="282.5" y2="99.12" stroke="#5a5a5a" stroke-width="0.8"/>
<text x="275.3" y="102.83" font-size="12.6" text-anchor="end">250</text>
<line x1="279.5" y1="55" x2="282.5" y2="55" stroke="#5a5a5a" stroke-width="0.8"/>
<text x="275.3" y="58.7" font-size="12.6" text-anchor="end">300</text>
<line x1="279.5" y1="10.88" x2="282.5" y2="10.88" stroke="#5a5a5a" stroke-width="0.8"/>
<text x="275.3" y="14.57" font-size="12.6" text-anchor="end">350</text>
<line x1="279.5" y1="121.19" x2="281" y2="121.19" stroke="#5a5a5a" stroke-width="0.7"/>
<line x1="279.5" y1="77.06" x2="281" y2="77.06" stroke="#5a5a5a" stroke-width="0.7"/>
<line x1="279.5" y1="32.94" x2="281" y2="32.94" stroke="#5a5a5a" stroke-width="0.7"/>
<text x="234.5" y="19.4" font-size="26">b</text>
<path d="M291.4,77.2 L291.72,76.95 L292.08,76.65 L292.51,76.32 L292.99,75.94 L293.53,75.51 L294.13,75.02 L294.8,74.48 L295.54,73.89 L296.35,73.23 L297.24,72.5 L298.23,71.7 L299.34,70.84 L300.54,69.91 L301.82,68.92 L303.16,67.88 L304.52,66.78 L305.91,65.64 L307.28,64.46 L308.63,63.25 L309.93,62 L311.2,60.67 L312.47,59.24 L313.74,57.72 L315.01,56.15 L316.28,54.56 L317.54,52.98 L318.81,51.43 L320.08,49.95 L321.35,48.56 L322.62,47.3 L323.89,46.15 L325.16,45.07 L326.43,44.06 L327.7,43.1 L328.97,42.2 L330.24,41.34 L331.51,40.52 L332.77,39.73 L334.04,38.96 L335.31,38.2 L336.58,37.51 L337.85,36.92 L339.12,36.4 L340.39,35.92 L341.66,35.45 L342.93,34.97 L344.2,34.44 L345.47,33.84 L346.74,33.13 L348,32.3 L349.27,31.26 L350.54,29.99 L351.81,28.56 L353.08,27.05 L354.35,25.52 L355.62,24.05 L356.89,22.69 L358.16,21.51 L359.43,20.59 L360.7,20 L361.97,19.75 L363.23,19.77 L364.5,20.03 L365.77,20.47 L367.04,21.04 L368.31,21.69 L369.58,22.37 L370.85,23.03 L372.12,23.62 L373.39,24.1 L374.66,24.44 L375.93,24.68 L377.2,24.87 L378.46,25.04 L379.73,25.23 L381,25.49 L382.27,25.86 L383.54,26.37 L384.81,27.07 L386.08,28 L387.35,29.19 L388.62,30.61 L389.89,32.23 L391.16,33.99 L392.43,35.86 L393.69,37.78 L394.96,39.72 L396.23,41.64 L397.5,43.48 L398.77,45.2 L400.04,46.8 L401.31,48.32 L402.58,49.78 L403.85,51.23 L405.12,52.68 L406.39,54.16 L407.66,55.7 L408.92,57.34 L410.19,59.09 L411.46,61 L412.73,63.15 L414,65.56 L415.27,68.16 L416.54,70.87 L417.81,73.61 L419.08,76.3 L420.35,78.86 L421.62,81.22 L422.89,83.29 L424.15,85 L425.48,86.36 L426.9,87.45 L428.36,88.31 L429.84,88.98 L431.29,89.5 L432.68,89.9 L433.97,90.21 L435.12,90.47 L436.09,90.72 L436.85,91" fill="none" stroke="#666666" stroke-width="0.75"/>
<path d="M291.4,111.6 L291.4,111.6 L291.4,111.6 L291.42,111.59 L291.44,111.59 L291.47,111.57 L291.52,111.55 L291.59,111.53 L291.69,111.49 L291.81,111.45 L291.96,111.39 L292.15,111.32 L292.37,111.23 L292.64,111.13 L292.94,111.01 L293.29,110.87 L293.68,110.69 L294.11,110.48 L294.58,110.23 L295.1,109.93 L295.67,109.59 L296.28,109.18 L296.93,108.72 L297.63,108.2 L298.38,107.6 L299.18,106.93 L300.02,106.18 L300.93,105.36 L301.89,104.46 L302.91,103.48 L303.99,102.43 L305.14,101.29 L306.37,100.08 L307.67,98.79 L309.04,97.41 L310.5,95.95 L312.05,94.42 L313.67,92.8 L315.38,91.12 L317.17,89.38 L319.02,87.62 L320.93,85.84 L322.89,84.06 L324.89,82.3 L326.93,80.58 L329,78.91 L331.09,77.31 L333.2,75.79 L335.31,74.38 L337.43,73.09 L339.54,71.9 L341.66,70.8 L343.77,69.78 L345.89,68.82 L348,67.91 L350.12,67.03 L352.24,66.18 L354.35,65.33 L356.47,64.48 L358.58,63.6 L360.7,62.68 L362.81,61.73 L364.93,60.75 L367.04,59.79 L369.16,58.87 L371.27,58.03 L373.39,57.3 L375.5,56.71 L377.62,56.29 L379.73,56.08 L381.85,56.11 L383.96,56.4 L386.08,57 L388.2,57.92 L390.31,59.14 L392.43,60.63 L394.54,62.37 L396.66,64.31 L398.77,66.43 L400.89,68.69 L403,71.07 L405.12,73.53 L407.23,76.04 L409.35,78.58 L411.46,81.1 L413.58,83.59 L415.67,86.02 L417.74,88.38 L419.77,90.67 L421.73,92.87 L423.63,94.96 L425.43,96.94 L427.13,98.79 L428.72,100.5 L430.17,102.06 L431.47,103.46 L432.62,104.68 L433.59,105.72 L434.4,106.59 L435.06,107.29 L435.59,107.86 L436.01,108.3 L436.32,108.64 L436.54,108.87 L436.69,109.03 L436.78,109.13 L436.83,109.18 L436.84,109.2 L436.85,109.2" fill="none" stroke="#f26a6a" stroke-width="0.75"/>
<path d="M291.4,103.7 L291.4,103.7 L291.4,103.7 L291.42,103.68 L291.44,103.66 L291.47,103.63 L291.52,103.57 L291.59,103.49 L291.69,103.39 L291.81,103.26 L291.96,103.1 L292.15,102.9 L292.37,102.67 L292.64,102.39 L292.94,102.06 L293.29,101.7 L293.68,101.28 L294.11,100.83 L294.58,100.33 L295.1,99.78 L295.67,99.19 L296.28,98.55 L296.93,97.86 L297.63,97.13 L298.38,96.35 L299.18,95.52 L300.02,94.64 L300.93,93.71 L301.89,92.71 L302.91,91.66 L303.99,90.54 L305.14,89.35 L306.37,88.09 L307.67,86.75 L309.04,85.33 L310.5,83.83 L312.05,82.25 L313.67,80.58 L315.38,78.84 L317.17,77.05 L319.02,75.23 L320.93,73.39 L322.89,71.57 L324.89,69.77 L326.93,68.02 L329,66.34 L331.09,64.75 L333.2,63.26 L335.31,61.9 L337.43,60.68 L339.54,59.59 L341.66,58.61 L343.77,57.72 L345.89,56.91 L348,56.17 L350.12,55.47 L352.24,54.8 L354.35,54.14 L356.47,53.47 L358.58,52.78 L360.7,52.05 L362.81,51.27 L364.93,50.46 L367.04,49.65 L369.16,48.85 L371.27,48.1 L373.39,47.42 L375.5,46.84 L377.62,46.38 L379.73,46.06 L381.85,45.92 L383.96,45.97 L386.08,46.25 L388.2,46.77 L390.31,47.52 L392.43,48.48 L394.54,49.64 L396.66,50.98 L398.77,52.48 L400.89,54.14 L403,55.92 L405.12,57.81 L407.23,59.81 L409.35,61.88 L411.46,64.02 L413.58,66.2 L415.67,68.41 L417.74,70.62 L419.77,72.82 L421.73,74.98 L423.63,77.08 L425.43,79.1 L427.13,81.03 L428.72,82.83 L430.17,84.5 L431.47,86 L432.62,87.32 L433.59,88.44 L434.4,89.37 L435.06,90.14 L435.59,90.75 L436.01,91.23 L436.32,91.59 L436.54,91.85 L436.69,92.02 L436.78,92.12 L436.83,92.18 L436.84,92.2 L436.85,92.2" fill="none" stroke="#3f7fe6" stroke-width="0.75"/>
<path d="M291.4,101.1 L291.4,101.1 L291.4,101.1 L291.42,101.09 L291.44,101.07 L291.47,101.04 L291.52,100.99 L291.59,100.93 L291.69,100.84 L291.81,100.73 L291.96,100.6 L292.15,100.43 L292.37,100.23 L292.64,100 L292.94,99.73 L293.29,99.41 L293.68,99.06 L294.11,98.67 L294.58,98.23 L295.1,97.75 L295.67,97.23 L296.28,96.65 L296.93,96.03 L297.63,95.36 L298.38,94.63 L299.18,93.86 L300.02,93.02 L300.93,92.13 L301.89,91.17 L302.91,90.14 L303.99,89.04 L305.14,87.87 L306.37,86.61 L307.67,85.27 L309.04,83.84 L310.5,82.32 L312.05,80.7 L313.67,78.99 L315.38,77.19 L317.17,75.34 L319.02,73.45 L320.93,71.53 L322.89,69.61 L324.89,67.72 L326.93,65.86 L329,64.06 L331.09,62.34 L333.2,60.72 L335.31,59.22 L337.43,57.85 L339.54,56.6 L341.66,55.48 L343.77,54.46 L345.89,53.53 L348,52.7 L350.12,51.93 L352.24,51.23 L354.35,50.58 L356.47,49.98 L358.58,49.4 L360.7,48.85 L362.81,48.31 L364.93,47.79 L367.04,47.31 L369.16,46.87 L371.27,46.49 L373.39,46.18 L375.5,45.94 L377.62,45.8 L379.73,45.76 L381.85,45.83 L383.96,46.03 L386.08,46.37 L388.2,46.85 L390.31,47.47 L392.43,48.23 L394.54,49.12 L396.66,50.13 L398.77,51.26 L400.89,52.5 L403,53.84 L405.12,55.27 L407.23,56.8 L409.35,58.41 L411.46,60.1 L413.58,61.86 L415.67,63.66 L417.74,65.5 L419.77,67.34 L421.73,69.18 L423.63,70.97 L425.43,72.72 L427.13,74.39 L428.72,75.96 L430.17,77.42 L431.47,78.74 L432.62,79.9 L433.59,80.89 L434.4,81.71 L435.06,82.39 L435.59,82.93 L436.01,83.35 L436.32,83.66 L436.54,83.89 L436.69,84.04 L436.78,84.13 L436.83,84.18 L436.84,84.2 L436.85,84.2" fill="none" stroke="#4cb57c" stroke-width="0.75"/>
<path d="M291.4,96.9 L291.4,96.9 L291.4,96.9 L291.42,96.89 L291.44,96.87 L291.47,96.84 L291.52,96.8 L291.59,96.74 L291.69,96.67 L291.81,96.57 L291.96,96.45 L292.15,96.3 L292.37,96.12 L292.64,95.9 L292.94,95.66 L293.29,95.38 L293.68,95.06 L294.11,94.71 L294.58,94.32 L295.1,93.89 L295.67,93.43 L296.28,92.92 L296.93,92.37 L297.63,91.78 L298.38,91.15 L299.18,90.47 L300.02,89.75 L300.93,88.97 L301.89,88.13 L302.91,87.22 L303.99,86.25 L305.14,85.2 L306.37,84.07 L307.67,82.85 L309.04,81.54 L310.5,80.14 L312.05,78.63 L313.67,77.02 L315.38,75.33 L317.17,73.56 L319.02,71.74 L320.93,69.88 L322.89,68.01 L324.89,66.14 L326.93,64.3 L329,62.48 L331.09,60.73 L333.2,59.05 L335.31,57.47 L337.43,55.99 L339.54,54.61 L341.66,53.32 L343.77,52.12 L345.89,50.99 L348,49.93 L350.12,48.92 L352.24,47.96 L354.35,47.03 L356.47,46.13 L358.58,45.24 L360.7,44.37 L362.81,43.49 L364.93,42.64 L367.04,41.83 L369.16,41.09 L371.27,40.43 L373.39,39.88 L375.5,39.45 L377.62,39.18 L379.73,39.09 L381.85,39.18 L383.96,39.5 L386.08,40.05 L388.2,40.86 L390.31,41.9 L392.43,43.17 L394.54,44.64 L396.66,46.28 L398.77,48.09 L400.89,50.04 L403,52.11 L405.12,54.28 L407.23,56.53 L409.35,58.83 L411.46,61.18 L413.58,63.55 L415.67,65.92 L417.74,68.28 L419.77,70.59 L421.73,72.85 L423.63,75.04 L425.43,77.13 L427.13,79.11 L428.72,80.96 L430.17,82.66 L431.47,84.19 L432.62,85.53 L433.59,86.67 L434.4,87.63 L435.06,88.4 L435.59,89.03 L436.01,89.51 L436.32,89.88 L436.54,90.14 L436.69,90.32 L436.78,90.42 L436.83,90.48 L436.84,90.5 L436.85,90.5" fill="none" stroke="#b57ff0" stroke-width="0.75"/>
<path d="M291.4,66.6 L291.4,66.6 L291.4,66.59 L291.42,66.58 L291.44,66.56 L291.47,66.52 L291.52,66.46 L291.59,66.38 L291.69,66.27 L291.81,66.14 L291.96,65.96 L292.15,65.75 L292.37,65.5 L292.64,65.2 L292.94,64.86 L293.29,64.47 L293.68,64.04 L294.11,63.57 L294.58,63.06 L295.1,62.5 L295.67,61.91 L296.28,61.27 L296.93,60.6 L297.63,59.89 L298.38,59.15 L299.18,58.37 L300.02,57.55 L300.93,56.7 L301.89,55.8 L302.91,54.86 L303.99,53.88 L305.14,52.85 L306.37,51.78 L307.67,50.66 L309.04,49.48 L310.5,48.26 L312.05,46.98 L313.67,45.65 L315.38,44.28 L317.17,42.89 L319.02,41.47 L320.93,40.06 L322.89,38.66 L324.89,37.29 L326.93,35.96 L329,34.68 L331.09,33.47 L333.2,32.35 L335.31,31.32 L337.43,30.39 L339.54,29.56 L341.66,28.82 L343.77,28.15 L345.89,27.54 L348,26.98 L350.12,26.47 L352.24,25.97 L354.35,25.5 L356.47,25.03 L358.58,24.55 L360.7,24.05 L362.81,23.53 L364.93,22.99 L367.04,22.48 L369.16,22.01 L371.27,21.6 L373.39,21.29 L375.5,21.09 L377.62,21.02 L379.73,21.12 L381.85,21.41 L383.96,21.91 L386.08,22.65 L388.2,23.64 L390.31,24.87 L392.43,26.32 L394.54,27.97 L396.66,29.8 L398.77,31.8 L400.89,33.93 L403,36.18 L405.12,38.54 L407.23,40.98 L409.35,43.48 L411.46,46.02 L413.58,48.58 L415.67,51.14 L417.74,53.68 L419.77,56.19 L421.73,58.63 L423.63,60.99 L425.43,63.26 L427.13,65.4 L428.72,67.39 L430.17,69.23 L431.47,70.88 L432.62,72.33 L433.59,73.57 L434.4,74.59 L435.06,75.44 L435.59,76.11 L436.01,76.63 L436.32,77.03 L436.54,77.31 L436.69,77.5 L436.78,77.62 L436.83,77.68 L436.84,77.7 L436.85,77.7" fill="none" stroke="#d6a32a" stroke-width="0.75"/>
<rect x="289.45" y="75.25" width="3.9" height="3.9" fill="#fff" stroke="#666666" stroke-width="0.8"/>
<rect x="295.29" y="70.55" width="3.9" height="3.9" fill="#fff" stroke="#666666" stroke-width="0.8"/>
<rect x="307.98" y="60.05" width="3.9" height="3.9" fill="#fff" stroke="#666666" stroke-width="0.8"/>
<rect x="320.67" y="45.35" width="3.9" height="3.9" fill="#fff" stroke="#666666" stroke-width="0.8"/>
<rect x="333.36" y="36.25" width="3.9" height="3.9" fill="#fff" stroke="#666666" stroke-width="0.8"/>
<rect x="346.05" y="30.35" width="3.9" height="3.9" fill="#fff" stroke="#666666" stroke-width="0.8"/>
<rect x="358.75" y="18.05" width="3.9" height="3.9" fill="#fff" stroke="#666666" stroke-width="0.8"/>
<rect x="371.44" y="22.15" width="3.9" height="3.9" fill="#fff" stroke="#666666" stroke-width="0.8"/>
<rect x="384.13" y="26.05" width="3.9" height="3.9" fill="#fff" stroke="#666666" stroke-width="0.8"/>
<rect x="396.82" y="43.25" width="3.9" height="3.9" fill="#fff" stroke="#666666" stroke-width="0.8"/>
<rect x="409.51" y="59.05" width="3.9" height="3.9" fill="#fff" stroke="#666666" stroke-width="0.8"/>
<rect x="422.2" y="83.05" width="3.9" height="3.9" fill="#fff" stroke="#666666" stroke-width="0.8"/>
<rect x="434.9" y="89.05" width="3.9" height="3.9" fill="#fff" stroke="#666666" stroke-width="0.8"/>
<circle cx="291.4" cy="111.6" r="2.35" fill="#fff" stroke="#f26a6a" stroke-width="0.8"/>
<circle cx="297.24" cy="109.4" r="2.35" fill="#fff" stroke="#f26a6a" stroke-width="0.8"/>
<circle cx="309.93" cy="96.4" r="2.35" fill="#fff" stroke="#f26a6a" stroke-width="0.8"/>
<circle cx="335.31" cy="71.5" r="2.35" fill="#fff" stroke="#f26a6a" stroke-width="0.8"/>
<circle cx="360.7" cy="63.9" r="2.35" fill="#fff" stroke="#f26a6a" stroke-width="0.8"/>
<circle cx="386.08" cy="49" r="2.35" fill="#fff" stroke="#f26a6a" stroke-width="0.8"/>
<circle cx="411.46" cy="82.1" r="2.35" fill="#fff" stroke="#f26a6a" stroke-width="0.8"/>
<circle cx="436.85" cy="109.2" r="2.35" fill="#fff" stroke="#f26a6a" stroke-width="0.8"/>
<polygon points="291.4,100.95 294.01,105.49 288.79,105.49" fill="#fff" stroke="#3f7fe6" stroke-width="0.8"/>
<polygon points="297.24,94.75 299.85,99.29 294.63,99.29" fill="#fff" stroke="#3f7fe6" stroke-width="0.8"/>
<polygon points="309.93,81.65 312.54,86.19 307.32,86.19" fill="#fff" stroke="#3f7fe6" stroke-width="0.8"/>
<polygon points="335.31,55.65 337.93,60.19 332.7,60.19" fill="#fff" stroke="#3f7fe6" stroke-width="0.8"/>
<polygon points="360.7,50.65 363.31,55.19 358.08,55.19" fill="#fff" stroke="#3f7fe6" stroke-width="0.8"/>
<polygon points="386.08,37.55 388.69,42.09 383.47,42.09" fill="#fff" stroke="#3f7fe6" stroke-width="0.8"/>
<polygon points="411.46,60.15 414.08,64.69 408.85,64.69" fill="#fff" stroke="#3f7fe6" stroke-width="0.8"/>
<polygon points="436.85,89.45 439.46,93.99 434.23,93.99" fill="#fff" stroke="#3f7fe6" stroke-width="0.8"/>
<polygon points="291.4,103.85 294.01,99.31 288.79,99.31" fill="#fff" stroke="#4cb57c" stroke-width="0.8"/>
<polygon points="297.24,98.65 299.85,94.11 294.63,94.11" fill="#fff" stroke="#4cb57c" stroke-width="0.8"/>
<polygon points="309.93,85.85 312.54,81.31 307.32,81.31" fill="#fff" stroke="#4cb57c" stroke-width="0.8"/>
<polygon points="335.31,58.65 337.93,54.11 332.7,54.11" fill="#fff" stroke="#4cb57c" stroke-width="0.8"/>
<polygon points="360.7,51.35 363.31,46.81 358.08,46.81" fill="#fff" stroke="#4cb57c" stroke-width="0.8"/>
<polygon points="386.08,45.55 388.69,41.01 383.47,41.01" fill="#fff" stroke="#4cb57c" stroke-width="0.8"/>
<polygon points="411.46,61.15 414.08,56.61 408.85,56.61" fill="#fff" stroke="#4cb57c" stroke-width="0.8"/>
<polygon points="436.85,86.95 439.46,82.41 434.23,82.41" fill="#fff" stroke="#4cb57c" stroke-width="0.8"/>
<polygon points="291.4,94.15 294.15,96.9 291.4,99.65 288.65,96.9" fill="#fff" stroke="#b57ff0" stroke-width="0.8"/>
<polygon points="297.24,89.45 299.99,92.2 297.24,94.95 294.49,92.2" fill="#fff" stroke="#b57ff0" stroke-width="0.8"/>
<polygon points="309.93,78.45 312.68,81.2 309.93,83.95 307.18,81.2" fill="#fff" stroke="#b57ff0" stroke-width="0.8"/>
<polygon points="335.31,52.05 338.06,54.8 335.31,57.55 332.56,54.8" fill="#fff" stroke="#b57ff0" stroke-width="0.8"/>
<polygon points="360.7,41.65 363.45,44.4 360.7,47.15 357.95,44.4" fill="#fff" stroke="#b57ff0" stroke-width="0.8"/>
<polygon points="386.08,31.05 388.83,33.8 386.08,36.55 383.33,33.8" fill="#fff" stroke="#b57ff0" stroke-width="0.8"/>
<polygon points="411.46,57.95 414.21,60.7 411.46,63.45 408.71,60.7" fill="#fff" stroke="#b57ff0" stroke-width="0.8"/>
<polygon points="436.85,87.75 439.6,90.5 436.85,93.25 434.1,90.5" fill="#fff" stroke="#b57ff0" stroke-width="0.8"/>
<polygon points="288.65,66.6 293.19,63.99 293.19,69.21" fill="#fff" stroke="#d6a32a" stroke-width="0.8"/>
<polygon points="294.49,60 299.03,57.39 299.03,62.61" fill="#fff" stroke="#d6a32a" stroke-width="0.8"/>
<polygon points="307.18,48.3 311.72,45.69 311.72,50.91" fill="#fff" stroke="#d6a32a" stroke-width="0.8"/>
<polygon points="332.56,28.7 337.1,26.09 337.1,31.31" fill="#fff" stroke="#d6a32a" stroke-width="0.8"/>
<polygon points="357.95,24.8 362.48,22.19 362.48,27.41" fill="#fff" stroke="#d6a32a" stroke-width="0.8"/>
<polygon points="383.33,16.4 387.87,13.79 387.87,19.01" fill="#fff" stroke="#d6a32a" stroke-width="0.8"/>
<polygon points="408.71,45.5 413.25,42.89 413.25,48.11" fill="#fff" stroke="#d6a32a" stroke-width="0.8"/>
<polygon points="434.1,77.7 438.63,75.09 438.63,80.31" fill="#fff" stroke="#d6a32a" stroke-width="0.8"/>
<text x="363.8" y="127.6" font-size="11.3">LiMn<tspan font-size="7.9" dy="2.6">1-<tspan font-style="italic">x</tspan></tspan><tspan dy="-2.6">SbTe</tspan><tspan font-size="7.9" dy="2.6">3</tspan></text>
<line x1="300.5" y1="116.5" x2="321" y2="116.5" stroke="#666666" stroke-width="0.7"/>
<rect x="309.14" y="114.84" width="3.31" height="3.31" fill="#fff" stroke="#666666" stroke-width="0.8"/>
<text x="324.5" y="119.8" font-size="9.4"><tspan font-style="italic">x</tspan> = 0.00</text>
<line x1="300.5" y1="127.5" x2="321" y2="127.5" stroke="#f26a6a" stroke-width="0.7"/>
<circle cx="310.8" cy="127.5" r="2.35" fill="#fff" stroke="#f26a6a" stroke-width="0.8"/>
<text x="324.5" y="130.8" font-size="9.4"><tspan font-style="italic">x</tspan> = 0.02</text>
<line x1="300.5" y1="139.5" x2="321" y2="139.5" stroke="#3f7fe6" stroke-width="0.7"/>
<polygon points="310.8,136.75 313.41,141.29 308.19,141.29" fill="#fff" stroke="#3f7fe6" stroke-width="0.8"/>
<text x="324.5" y="142.8" font-size="9.4"><tspan font-style="italic">x</tspan> = 0.04</text>
<line x1="300.5" y1="150.5" x2="321" y2="150.5" stroke="#4cb57c" stroke-width="0.7"/>
<polygon points="310.8,153.25 313.41,148.71 308.19,148.71" fill="#fff" stroke="#4cb57c" stroke-width="0.8"/>
<text x="324.5" y="153.8" font-size="9.4"><tspan font-style="italic">x</tspan> = 0.06</text>
<line x1="360.8" y1="140.5" x2="381.3" y2="140.5" stroke="#b57ff0" stroke-width="0.7"/>
<polygon points="371.1,137.75 373.85,140.5 371.1,143.25 368.35,140.5" fill="#fff" stroke="#b57ff0" stroke-width="0.8"/>
<text x="384.8" y="143.8" font-size="9.4"><tspan font-style="italic">x</tspan> = 0.08</text>
<line x1="360.8" y1="151.5" x2="381.3" y2="151.5" stroke="#d6a32a" stroke-width="0.7"/>
<polygon points="368.35,151.5 372.89,148.89 372.89,154.11" fill="#fff" stroke="#d6a32a" stroke-width="0.8"/>
<text x="384.8" y="154.8" font-size="9.4"><tspan font-style="italic">x</tspan> = 0.10</text>
<text transform="translate(247.6,88.2) rotate(-90)" font-size="16" text-anchor="middle">S (μV/K)</text>
<rect x="504.5" y="11.4" width="177.1" height="149.4" fill="none" stroke="#5a5a5a" stroke-width="1.05"/>
<line x1="517.4" y1="160.8" x2="517.4" y2="157.8" stroke="#5a5a5a" stroke-width="0.8"/>
<text x="517.4" y="174.4" font-size="12.6" text-anchor="middle">300</text>
<line x1="555.35" y1="160.8" x2="555.35" y2="157.8" stroke="#5a5a5a" stroke-width="0.8"/>
<text x="555.35" y="174.4" font-size="12.6" text-anchor="middle">450</text>
<line x1="593.3" y1="160.8" x2="593.3" y2="157.8" stroke="#5a5a5a" stroke-width="0.8"/>
<text x="593.3" y="174.4" font-size="12.6" text-anchor="middle">600</text>
<line x1="631.25" y1="160.8" x2="631.25" y2="157.8" stroke="#5a5a5a" stroke-width="0.8"/>
<text x="631.25" y="174.4" font-size="12.6" text-anchor="middle">750</text>
<line x1="669.2" y1="160.8" x2="669.2" y2="157.8" stroke="#5a5a5a" stroke-width="0.8"/>
<text x="669.2" y="174.4" font-size="12.6" text-anchor="middle">900</text>
<line x1="536.38" y1="160.8" x2="536.38" y2="159.1" stroke="#5a5a5a" stroke-width="0.8"/>
<line x1="574.33" y1="160.8" x2="574.33" y2="159.1" stroke="#5a5a5a" stroke-width="0.8"/>
<line x1="612.27" y1="160.8" x2="612.27" y2="159.1" stroke="#5a5a5a" stroke-width="0.8"/>
<line x1="650.23" y1="160.8" x2="650.23" y2="159.1" stroke="#5a5a5a" stroke-width="0.8"/>
<text x="593.05" y="191.4" font-size="16" text-anchor="middle"><tspan font-style="italic">T</tspan> (K)</text>
<line x1="504.5" y1="160.5" x2="507.5" y2="160.5" stroke="#5a5a5a" stroke-width="0.8"/>
<text x="500.3" y="164.2" font-size="12.6" text-anchor="end">2</text>
<line x1="504.5" y1="139.17" x2="507.5" y2="139.17" stroke="#5a5a5a" stroke-width="0.8"/>
<text x="500.3" y="142.87" font-size="12.6" text-anchor="end">3</text>
<line x1="504.5" y1="117.84" x2="507.5" y2="117.84" stroke="#5a5a5a" stroke-width="0.8"/>
<text x="500.3" y="121.54" font-size="12.6" text-anchor="end">4</text>
<line x1="504.5" y1="96.51" x2="507.5" y2="96.51" stroke="#5a5a5a" stroke-width="0.8"/>
<text x="500.3" y="100.21" font-size="12.6" text-anchor="end">5</text>
<line x1="504.5" y1="75.18" x2="507.5" y2="75.18" stroke="#5a5a5a" stroke-width="0.8"/>
<text x="500.3" y="78.88" font-size="12.6" text-anchor="end">6</text>
<line x1="504.5" y1="53.85" x2="507.5" y2="53.85" stroke="#5a5a5a" stroke-width="0.8"/>
<text x="500.3" y="57.55" font-size="12.6" text-anchor="end">7</text>
<line x1="504.5" y1="32.52" x2="507.5" y2="32.52" stroke="#5a5a5a" stroke-width="0.8"/>
<text x="500.3" y="36.22" font-size="12.6" text-anchor="end">8</text>
<line x1="504.5" y1="11.19" x2="507.5" y2="11.19" stroke="#5a5a5a" stroke-width="0.8"/>
<text x="500.3" y="14.89" font-size="12.6" text-anchor="end">9</text>
<line x1="504.5" y1="149.84" x2="506" y2="149.84" stroke="#5a5a5a" stroke-width="0.7"/>
<line x1="504.5" y1="128.5" x2="506" y2="128.5" stroke="#5a5a5a" stroke-width="0.7"/>
<line x1="504.5" y1="107.18" x2="506" y2="107.18" stroke="#5a5a5a" stroke-width="0.7"/>
<line x1="504.5" y1="85.84" x2="506" y2="85.84" stroke="#5a5a5a" stroke-width="0.7"/>
<line x1="504.5" y1="64.52" x2="506" y2="64.52" stroke="#5a5a5a" stroke-width="0.7"/>
<line x1="504.5" y1="43.19" x2="506" y2="43.19" stroke="#5a5a5a" stroke-width="0.7"/>
<line x1="504.5" y1="21.86" x2="506" y2="21.86" stroke="#5a5a5a" stroke-width="0.7"/>
<text x="467.7" y="21" font-size="27">c</text>
<path d="M517.4,131.6 L517.72,131.53 L518.08,131.46 L518.5,131.39 L518.98,131.3 L519.52,131.19 L520.12,131.07 L520.79,130.92 L521.52,130.75 L522.33,130.54 L523.22,130.3 L524.21,130.02 L525.31,129.71 L526.51,129.36 L527.79,128.98 L529.12,128.59 L530.48,128.17 L531.86,127.74 L533.23,127.3 L534.57,126.85 L535.87,126.4 L537.13,125.93 L538.4,125.42 L539.66,124.89 L540.93,124.35 L542.19,123.79 L543.46,123.25 L544.72,122.71 L545.99,122.2 L547.25,121.73 L548.52,121.3 L549.78,120.9 L551.05,120.52 L552.31,120.15 L553.58,119.8 L554.84,119.48 L556.11,119.18 L557.37,118.91 L558.64,118.67 L559.9,118.47 L561.17,118.3 L562.43,118.17 L563.7,118.06 L564.96,117.99 L566.23,117.95 L567.49,117.94 L568.76,117.96 L570.02,118.01 L571.29,118.08 L572.55,118.18 L573.82,118.3 L575.08,118.47 L576.35,118.69 L577.61,118.97 L578.88,119.27 L580.14,119.59 L581.41,119.91 L582.67,120.23 L583.94,120.53 L585.2,120.79 L586.47,121 L587.73,121.22 L589,121.5 L590.26,121.8 L591.53,122.09 L592.79,122.35 L594.06,122.54 L595.32,122.63 L596.59,122.59 L597.85,122.39 L599.12,122 L600.38,121.4 L601.65,120.61 L602.91,119.67 L604.18,118.59 L605.44,117.42 L606.71,116.18 L607.97,114.89 L609.24,113.6 L610.5,112.32 L611.77,111.1 L613.03,109.92 L614.3,108.76 L615.56,107.6 L616.83,106.42 L618.09,105.21 L619.36,103.96 L620.62,102.65 L621.89,101.26 L623.15,99.78 L624.42,98.2 L625.68,96.46 L626.95,94.56 L628.21,92.54 L629.48,90.43 L630.74,88.28 L632.01,86.12 L633.27,84.01 L634.54,81.97 L635.8,80.05 L637.07,78.3 L638.33,76.71 L639.6,75.25 L640.86,73.9 L642.13,72.62 L643.39,71.38 L644.66,70.17 L645.92,68.95 L647.19,67.7 L648.45,66.39 L649.72,65 L651.04,63.46 L652.45,61.78 L653.91,60 L655.39,58.18 L656.83,56.37 L658.22,54.63 L659.5,53.01 L660.65,51.56 L661.62,50.34 L662.37,49.4" fill="none" stroke="#666666" stroke-width="0.75"/>
<path d="M517.4,113.1 L517.4,113.1 L517.4,113.1 L517.42,113.09 L517.44,113.09 L517.47,113.07 L517.52,113.05 L517.59,113.02 L517.69,112.99 L517.81,112.94 L517.96,112.88 L518.15,112.8 L518.37,112.72 L518.63,112.61 L518.94,112.49 L519.28,112.35 L519.67,112.19 L520.1,112.01 L520.57,111.8 L521.09,111.57 L521.65,111.32 L522.26,111.03 L522.91,110.72 L523.61,110.38 L524.36,110 L525.15,109.59 L526,109.15 L526.89,108.69 L527.85,108.2 L528.87,107.69 L529.95,107.16 L531.1,106.62 L532.32,106.07 L533.61,105.51 L534.99,104.95 L536.44,104.38 L537.98,103.82 L539.6,103.26 L541.31,102.7 L543.08,102.15 L544.93,101.6 L546.83,101.06 L548.78,100.53 L550.78,99.99 L552.81,99.47 L554.88,98.94 L556.96,98.43 L559.06,97.91 L561.17,97.4 L563.28,96.89 L565.39,96.39 L567.49,95.89 L569.6,95.4 L571.71,94.91 L573.82,94.42 L575.93,93.93 L578.04,93.45 L580.14,92.97 L582.25,92.5 L584.36,92.02 L586.47,91.55 L588.58,91.08 L590.69,90.61 L592.79,90.15 L594.9,89.68 L597.01,89.22 L599.12,88.76 L601.23,88.3 L603.34,87.84 L605.44,87.38 L607.55,86.92 L609.66,86.46 L611.77,86 L613.88,85.54 L615.99,85.07 L618.09,84.59 L620.2,84.09 L622.31,83.55 L624.42,82.98 L626.53,82.36 L628.64,81.7 L630.74,80.97 L632.85,80.17 L634.96,79.3 L637.07,78.35 L639.17,77.31 L641.27,76.2 L643.33,75.04 L645.35,73.84 L647.31,72.63 L649.19,71.41 L650.99,70.22 L652.69,69.06 L654.27,67.96 L655.71,66.93 L657.01,65.99 L658.15,65.17 L659.12,64.46 L659.93,63.87 L660.59,63.39 L661.12,63.01 L661.53,62.71 L661.84,62.48 L662.06,62.32 L662.21,62.21 L662.3,62.15 L662.35,62.11 L662.37,62.1 L662.37,62.1" fill="none" stroke="#f26a6a" stroke-width="0.75"/>
<path d="M517.4,110 L517.4,110 L517.4,109.99 L517.42,109.98 L517.44,109.96 L517.47,109.92 L517.52,109.85 L517.59,109.77 L517.69,109.65 L517.81,109.51 L517.96,109.32 L518.15,109.1 L518.37,108.83 L518.63,108.52 L518.94,108.16 L519.28,107.76 L519.67,107.32 L520.1,106.85 L520.57,106.36 L521.09,105.84 L521.65,105.3 L522.26,104.75 L522.91,104.18 L523.61,103.61 L524.36,103.03 L525.15,102.46 L526,101.89 L526.89,101.32 L527.85,100.75 L528.87,100.19 L529.95,99.63 L531.1,99.07 L532.32,98.52 L533.61,97.97 L534.99,97.43 L536.44,96.9 L537.98,96.37 L539.6,95.85 L541.31,95.33 L543.08,94.83 L544.93,94.34 L546.83,93.87 L548.78,93.41 L550.78,92.97 L552.81,92.55 L554.88,92.15 L556.96,91.77 L559.06,91.42 L561.17,91.1 L563.28,90.81 L565.39,90.54 L567.49,90.29 L569.6,90.05 L571.71,89.83 L573.82,89.61 L575.93,89.39 L578.04,89.17 L580.14,88.94 L582.25,88.69 L584.36,88.43 L586.47,88.15 L588.58,87.84 L590.69,87.5 L592.79,87.11 L594.9,86.68 L597.01,86.2 L599.12,85.66 L601.23,85.06 L603.34,84.38 L605.44,83.63 L607.55,82.8 L609.66,81.87 L611.77,80.85 L613.88,79.73 L615.99,78.52 L618.09,77.22 L620.2,75.85 L622.31,74.41 L624.42,72.92 L626.53,71.38 L628.64,69.8 L630.74,68.2 L632.85,66.57 L634.96,64.94 L637.07,63.3 L639.17,61.67 L641.27,60.06 L643.33,58.48 L645.35,56.94 L647.31,55.45 L649.19,54.02 L650.99,52.66 L652.69,51.38 L654.27,50.19 L655.71,49.1 L657.01,48.12 L658.15,47.27 L659.12,46.54 L659.93,45.93 L660.59,45.44 L661.12,45.04 L661.53,44.73 L661.84,44.5 L662.06,44.33 L662.21,44.22 L662.3,44.15 L662.35,44.11 L662.37,44.1 L662.37,44.1" fill="none" stroke="#3f7fe6" stroke-width="0.75"/>
<path d="M517.4,110.8 L517.4,110.8 L517.4,110.8 L517.42,110.79 L517.44,110.78 L517.47,110.75 L517.52,110.72 L517.59,110.67 L517.69,110.61 L517.81,110.53 L517.96,110.42 L518.15,110.3 L518.37,110.15 L518.63,109.97 L518.94,109.77 L519.28,109.54 L519.67,109.29 L520.1,109.02 L520.57,108.72 L521.09,108.4 L521.65,108.06 L522.26,107.7 L522.91,107.32 L523.61,106.92 L524.36,106.5 L525.15,106.07 L526,105.62 L526.89,105.16 L527.85,104.68 L528.87,104.2 L529.95,103.7 L531.1,103.2 L532.32,102.69 L533.61,102.18 L534.99,101.66 L536.44,101.14 L537.98,100.62 L539.6,100.1 L541.31,99.58 L543.08,99.06 L544.93,98.56 L546.83,98.05 L548.78,97.56 L550.78,97.08 L552.81,96.61 L554.88,96.15 L556.96,95.7 L559.06,95.28 L561.17,94.87 L563.28,94.48 L565.39,94.1 L567.49,93.74 L569.6,93.38 L571.71,93.03 L573.82,92.68 L575.93,92.33 L578.04,91.97 L580.14,91.6 L582.25,91.22 L584.36,90.82 L586.47,90.4 L588.58,89.95 L590.69,89.47 L592.79,88.96 L594.9,88.39 L597.01,87.77 L599.12,87.09 L601.23,86.35 L603.34,85.53 L605.44,84.62 L607.55,83.63 L609.66,82.54 L611.77,81.35 L613.88,80.05 L615.99,78.65 L618.09,77.14 L620.2,75.55 L622.31,73.86 L624.42,72.1 L626.53,70.26 L628.64,68.35 L630.74,66.38 L632.85,64.34 L634.96,62.26 L637.07,60.13 L639.17,57.97 L641.27,55.78 L643.33,53.59 L645.35,51.42 L647.31,49.3 L649.19,47.23 L650.99,45.24 L652.69,43.35 L654.27,41.58 L655.71,39.95 L657.01,38.48 L658.15,37.18 L659.12,36.08 L659.93,35.17 L660.59,34.42 L661.12,33.82 L661.53,33.35 L661.84,33 L662.06,32.75 L662.21,32.58 L662.3,32.47 L662.35,32.42 L662.37,32.4 L662.37,32.4" fill="none" stroke="#4cb57c" stroke-width="0.75"/>
<path d="M517.4,108.7 L517.4,108.7 L517.4,108.7 L517.42,108.69 L517.44,108.68 L517.47,108.66 L517.52,108.62 L517.59,108.58 L517.69,108.52 L517.81,108.44 L517.96,108.34 L518.15,108.23 L518.37,108.08 L518.63,107.92 L518.94,107.72 L519.28,107.51 L519.67,107.27 L520.1,107.01 L520.57,106.72 L521.09,106.42 L521.65,106.1 L522.26,105.75 L522.91,105.39 L523.61,105.01 L524.36,104.62 L525.15,104.2 L526,103.78 L526.89,103.34 L527.85,102.89 L528.87,102.43 L529.95,101.96 L531.1,101.48 L532.32,101 L533.61,100.51 L534.99,100.02 L536.44,99.53 L537.98,99.03 L539.6,98.54 L541.31,98.06 L543.08,97.59 L544.93,97.14 L546.83,96.71 L548.78,96.31 L550.78,95.95 L552.81,95.62 L554.88,95.35 L556.96,95.12 L559.06,94.95 L561.17,94.85 L563.28,94.81 L565.39,94.83 L567.49,94.89 L569.6,94.97 L571.71,95.07 L573.82,95.17 L575.93,95.25 L578.04,95.31 L580.14,95.33 L582.25,95.29 L584.36,95.19 L586.47,95 L588.58,94.72 L590.69,94.34 L592.79,93.85 L594.9,93.25 L597.01,92.54 L599.12,91.7 L601.23,90.75 L603.34,89.66 L605.44,88.44 L607.55,87.08 L609.66,85.58 L611.77,83.93 L613.88,82.14 L615.99,80.2 L618.09,78.16 L620.2,76.02 L622.31,73.81 L624.42,71.55 L626.53,69.26 L628.64,66.95 L630.74,64.65 L632.85,62.37 L634.96,60.14 L637.07,57.98 L639.17,55.91 L641.27,53.92 L643.33,52.03 L645.35,50.24 L647.31,48.55 L649.19,46.96 L650.99,45.49 L652.69,44.13 L654.27,42.88 L655.71,41.76 L657.01,40.77 L658.15,39.9 L659.12,39.16 L659.93,38.55 L660.59,38.05 L661.12,37.65 L661.53,37.34 L661.84,37.1 L662.06,36.93 L662.21,36.82 L662.3,36.75 L662.35,36.71 L662.37,36.7 L662.37,36.7" fill="none" stroke="#b57ff0" stroke-width="0.75"/>
<path d="M517.4,118.3 L517.4,118.3 L517.4,118.3 L517.42,118.29 L517.44,118.28 L517.47,118.26 L517.52,118.23 L517.59,118.18 L517.69,118.12 L517.81,118.05 L517.96,117.95 L518.15,117.84 L518.37,117.7 L518.63,117.54 L518.94,117.35 L519.28,117.14 L519.67,116.91 L520.1,116.65 L520.57,116.37 L521.09,116.07 L521.65,115.74 L522.26,115.4 L522.91,115.04 L523.61,114.65 L524.36,114.25 L525.15,113.83 L526,113.39 L526.89,112.95 L527.85,112.5 L528.87,112.04 L529.95,111.59 L531.1,111.15 L532.32,110.72 L533.61,110.31 L534.99,109.91 L536.44,109.54 L537.98,109.2 L539.6,108.89 L541.31,108.62 L543.08,108.37 L544.93,108.15 L546.83,107.97 L548.78,107.81 L550.78,107.68 L552.81,107.57 L554.88,107.48 L556.96,107.42 L559.06,107.38 L561.17,107.37 L563.28,107.37 L565.39,107.38 L567.49,107.41 L569.6,107.45 L571.71,107.49 L573.82,107.54 L575.93,107.58 L578.04,107.62 L580.14,107.65 L582.25,107.67 L584.36,107.67 L586.47,107.65 L588.58,107.61 L590.69,107.52 L592.79,107.37 L594.9,107.14 L597.01,106.81 L599.12,106.36 L601.23,105.76 L603.34,105.01 L605.44,104.08 L607.55,102.94 L609.66,101.59 L611.77,100 L613.88,98.16 L615.99,96.09 L618.09,93.81 L620.2,91.36 L622.31,88.76 L624.42,86.04 L626.53,83.23 L628.64,80.36 L630.74,77.44 L632.85,74.52 L634.96,71.61 L637.07,68.75 L639.17,65.96 L641.27,63.25 L643.33,60.64 L645.35,58.13 L647.31,55.74 L649.19,53.47 L650.99,51.33 L652.69,49.35 L654.27,47.52 L655.71,45.86 L657.01,44.38 L658.15,43.08 L659.12,41.98 L659.93,41.07 L660.59,40.32 L661.12,39.72 L661.53,39.25 L661.84,38.9 L662.06,38.65 L662.21,38.48 L662.3,38.37 L662.35,38.32 L662.37,38.3 L662.37,38.3" fill="none" stroke="#d6a32a" stroke-width="0.75"/>
<rect x="515.45" y="129.65" width="3.9" height="3.9" fill="#fff" stroke="#666666" stroke-width="0.8"/>
<rect x="521.27" y="128.35" width="3.9" height="3.9" fill="#fff" stroke="#666666" stroke-width="0.8"/>
<rect x="533.92" y="124.45" width="3.9" height="3.9" fill="#fff" stroke="#666666" stroke-width="0.8"/>
<rect x="546.57" y="119.35" width="3.9" height="3.9" fill="#fff" stroke="#666666" stroke-width="0.8"/>
<rect x="559.22" y="116.35" width="3.9" height="3.9" fill="#fff" stroke="#666666" stroke-width="0.8"/>
<rect x="571.87" y="116.35" width="3.9" height="3.9" fill="#fff" stroke="#666666" stroke-width="0.8"/>
<rect x="584.52" y="119.05" width="3.9" height="3.9" fill="#fff" stroke="#666666" stroke-width="0.8"/>
<rect x="597.17" y="120.05" width="3.9" height="3.9" fill="#fff" stroke="#666666" stroke-width="0.8"/>
<rect x="609.82" y="109.15" width="3.9" height="3.9" fill="#fff" stroke="#666666" stroke-width="0.8"/>
<rect x="622.47" y="96.25" width="3.9" height="3.9" fill="#fff" stroke="#666666" stroke-width="0.8"/>
<rect x="635.12" y="76.35" width="3.9" height="3.9" fill="#fff" stroke="#666666" stroke-width="0.8"/>
<rect x="647.77" y="63.05" width="3.9" height="3.9" fill="#fff" stroke="#666666" stroke-width="0.8"/>
<rect x="660.42" y="47.45" width="3.9" height="3.9" fill="#fff" stroke="#666666" stroke-width="0.8"/>
<circle cx="517.4" cy="113.1" r="2.35" fill="#fff" stroke="#f26a6a" stroke-width="0.8"/>
<circle cx="523.22" cy="110.8" r="2.35" fill="#fff" stroke="#f26a6a" stroke-width="0.8"/>
<circle cx="535.87" cy="103.7" r="2.35" fill="#fff" stroke="#f26a6a" stroke-width="0.8"/>
<circle cx="561.17" cy="97.3" r="2.35" fill="#fff" stroke="#f26a6a" stroke-width="0.8"/>
<circle cx="586.47" cy="91.5" r="2.35" fill="#fff" stroke="#f26a6a" stroke-width="0.8"/>
<circle cx="611.77" cy="86" r="2.35" fill="#fff" stroke="#f26a6a" stroke-width="0.8"/>
<circle cx="637.07" cy="80.5" r="2.35" fill="#fff" stroke="#f26a6a" stroke-width="0.8"/>
<circle cx="662.37" cy="62.1" r="2.35" fill="#fff" stroke="#f26a6a" stroke-width="0.8"/>
<polygon points="517.4,107.25 520.01,111.79 514.79,111.79" fill="#fff" stroke="#3f7fe6" stroke-width="0.8"/>
<polygon points="523.22,100.25 525.83,104.79 520.61,104.79" fill="#fff" stroke="#3f7fe6" stroke-width="0.8"/>
<polygon points="535.87,93.45 538.48,97.99 533.26,97.99" fill="#fff" stroke="#3f7fe6" stroke-width="0.8"/>
<polygon points="561.17,87.65 563.78,92.19 558.56,92.19" fill="#fff" stroke="#3f7fe6" stroke-width="0.8"/>
<polygon points="586.47,86.05 589.08,90.59 583.86,90.59" fill="#fff" stroke="#3f7fe6" stroke-width="0.8"/>
<polygon points="611.77,80.55 614.38,85.09 609.16,85.09" fill="#fff" stroke="#3f7fe6" stroke-width="0.8"/>
<polygon points="637.07,60.35 639.68,64.89 634.46,64.89" fill="#fff" stroke="#3f7fe6" stroke-width="0.8"/>
<polygon points="662.37,41.35 664.98,45.89 659.76,45.89" fill="#fff" stroke="#3f7fe6" stroke-width="0.8"/>
<polygon points="517.4,113.55 520.01,109.01 514.79,109.01" fill="#fff" stroke="#4cb57c" stroke-width="0.8"/>
<polygon points="523.22,109.65 525.83,105.11 520.61,105.11" fill="#fff" stroke="#4cb57c" stroke-width="0.8"/>
<polygon points="535.87,103.35 538.48,98.81 533.26,98.81" fill="#fff" stroke="#4cb57c" stroke-width="0.8"/>
<polygon points="561.17,97.15 563.78,92.61 558.56,92.61" fill="#fff" stroke="#4cb57c" stroke-width="0.8"/>
<polygon points="586.47,93.75 589.08,89.21 583.86,89.21" fill="#fff" stroke="#4cb57c" stroke-width="0.8"/>
<polygon points="611.77,86.75 614.38,82.21 609.16,82.21" fill="#fff" stroke="#4cb57c" stroke-width="0.8"/>
<polygon points="637.07,63.85 639.68,59.31 634.46,59.31" fill="#fff" stroke="#4cb57c" stroke-width="0.8"/>
<polygon points="662.37,35.15 664.98,30.61 659.76,30.61" fill="#fff" stroke="#4cb57c" stroke-width="0.8"/>
<polygon points="517.4,105.95 520.15,108.7 517.4,111.45 514.65,108.7" fill="#fff" stroke="#b57ff0" stroke-width="0.8"/>
<polygon points="523.22,102.25 525.97,105 523.22,107.75 520.47,105" fill="#fff" stroke="#b57ff0" stroke-width="0.8"/>
<polygon points="535.87,96.25 538.62,99 535.87,101.75 533.12,99" fill="#fff" stroke="#b57ff0" stroke-width="0.8"/>
<polygon points="561.17,90.45 563.92,93.2 561.17,95.95 558.42,93.2" fill="#fff" stroke="#b57ff0" stroke-width="0.8"/>
<polygon points="586.47,94.55 589.22,97.3 586.47,100.05 583.72,97.3" fill="#fff" stroke="#b57ff0" stroke-width="0.8"/>
<polygon points="611.77,84.85 614.52,87.6 611.77,90.35 609.02,87.6" fill="#fff" stroke="#b57ff0" stroke-width="0.8"/>
<polygon points="637.07,53.15 639.82,55.9 637.07,58.65 634.32,55.9" fill="#fff" stroke="#b57ff0" stroke-width="0.8"/>
<polygon points="662.37,33.95 665.12,36.7 662.37,39.45 659.62,36.7" fill="#fff" stroke="#b57ff0" stroke-width="0.8"/>
<polygon points="514.65,118.3 519.19,115.69 519.19,120.91" fill="#fff" stroke="#d6a32a" stroke-width="0.8"/>
<polygon points="520.47,114.7 525.01,112.09 525.01,117.31" fill="#fff" stroke="#d6a32a" stroke-width="0.8"/>
<polygon points="533.12,108.4 537.66,105.79 537.66,111.01" fill="#fff" stroke="#d6a32a" stroke-width="0.8"/>
<polygon points="558.42,106.9 562.96,104.29 562.96,109.51" fill="#fff" stroke="#d6a32a" stroke-width="0.8"/>
<polygon points="583.72,108.2 588.26,105.59 588.26,110.81" fill="#fff" stroke="#d6a32a" stroke-width="0.8"/>
<polygon points="609.02,106.2 613.56,103.59 613.56,108.81" fill="#fff" stroke="#d6a32a" stroke-width="0.8"/>
<polygon points="634.32,67 638.86,64.39 638.86,69.61" fill="#fff" stroke="#d6a32a" stroke-width="0.8"/>
<polygon points="659.62,38.3 664.16,35.69 664.16,40.91" fill="#fff" stroke="#d6a32a" stroke-width="0.8"/>
<text x="510" y="26.3" font-size="11.3">LiMn<tspan font-size="7.9" dy="2.6">1-<tspan font-style="italic">x</tspan></tspan><tspan dy="-2.6">SbTe</tspan><tspan font-size="7.9" dy="2.6">3</tspan></text>
<line x1="511.1" y1="37.5" x2="531.6" y2="37.5" stroke="#666666" stroke-width="0.7"/>
<rect x="519.74" y="35.84" width="3.31" height="3.31" fill="#fff" stroke="#666666" stroke-width="0.8"/>
<text x="535.1" y="40.8" font-size="9.4"><tspan font-style="italic">x</tspan> = 0.00</text>
<line x1="511.1" y1="48.5" x2="531.6" y2="48.5" stroke="#f26a6a" stroke-width="0.7"/>
<circle cx="521.4" cy="48.5" r="2.35" fill="#fff" stroke="#f26a6a" stroke-width="0.8"/>
<text x="535.1" y="51.8" font-size="9.4"><tspan font-style="italic">x</tspan> = 0.02</text>
<line x1="511.1" y1="60.5" x2="531.6" y2="60.5" stroke="#3f7fe6" stroke-width="0.7"/>
<polygon points="521.4,57.75 524.01,62.29 518.79,62.29" fill="#fff" stroke="#3f7fe6" stroke-width="0.8"/>
<text x="535.1" y="63.8" font-size="9.4"><tspan font-style="italic">x</tspan> = 0.04</text>
<line x1="511.1" y1="71.5" x2="531.6" y2="71.5" stroke="#4cb57c" stroke-width="0.7"/>
<polygon points="521.4,74.25 524.01,69.71 518.79,69.71" fill="#fff" stroke="#4cb57c" stroke-width="0.8"/>
<text x="535.1" y="74.8" font-size="9.4"><tspan font-style="italic">x</tspan> = 0.06</text>
<line x1="571.8" y1="38.5" x2="592.3" y2="38.5" stroke="#b57ff0" stroke-width="0.7"/>
<polygon points="582.1,35.75 584.85,38.5 582.1,41.25 579.35,38.5" fill="#fff" stroke="#b57ff0" stroke-width="0.8"/>
<text x="595.8" y="41.8" font-size="9.4"><tspan font-style="italic">x</tspan> = 0.08</text>
<line x1="571.8" y1="49.5" x2="592.3" y2="49.5" stroke="#d6a32a" stroke-width="0.7"/>
<polygon points="579.35,49.5 583.89,46.89 583.89,52.11" fill="#fff" stroke="#d6a32a" stroke-width="0.8"/>
<text x="595.8" y="52.8" font-size="9.4"><tspan font-style="italic">x</tspan> = 0.10</text>
<text transform="translate(487.6,85.3) rotate(-90)" font-size="16" text-anchor="middle">PF (μWcm<tspan font-size="10.6" dy="-6.3">-1</tspan><tspan dy="6.3">K</tspan><tspan font-size="10.6" dy="-6.3">-2</tspan><tspan dy="6.3">)</tspan></text>
<rect x="49" y="199.6" width="177.8" height="149.7" fill="none" stroke="#5a5a5a" stroke-width="1.05"/>
<line x1="61.6" y1="349.3" x2="61.6" y2="346.3" stroke="#5a5a5a" stroke-width="0.8"/>
<text x="61.6" y="362.9" font-size="12.6" text-anchor="middle">300</text>
<line x1="99.55" y1="349.3" x2="99.55" y2="346.3" stroke="#5a5a5a" stroke-width="0.8"/>
<text x="99.55" y="362.9" font-size="12.6" text-anchor="middle">450</text>
<line x1="137.5" y1="349.3" x2="137.5" y2="346.3" stroke="#5a5a5a" stroke-width="0.8"/>
<text x="137.5" y="362.9" font-size="12.6" text-anchor="middle">600</text>
<line x1="175.45" y1="349.3" x2="175.45" y2="346.3" stroke="#5a5a5a" stroke-width="0.8"/>
<text x="175.45" y="362.9" font-size="12.6" text-anchor="middle">750</text>
<line x1="213.4" y1="349.3" x2="213.4" y2="346.3" stroke="#5a5a5a" stroke-width="0.8"/>
<text x="213.4" y="362.9" font-size="12.6" text-anchor="middle">900</text>
<line x1="80.58" y1="349.3" x2="80.58" y2="347.6" stroke="#5a5a5a" stroke-width="0.8"/>
<line x1="118.53" y1="349.3" x2="118.53" y2="347.6" stroke="#5a5a5a" stroke-width="0.8"/>
<line x1="156.48" y1="349.3" x2="156.48" y2="347.6" stroke="#5a5a5a" stroke-width="0.8"/>
<line x1="194.42" y1="349.3" x2="194.42" y2="347.6" stroke="#5a5a5a" stroke-width="0.8"/>
<text x="137.9" y="379.9" font-size="16" text-anchor="middle"><tspan font-style="italic">T</tspan> (K)</text>
<line x1="49" y1="335.3" x2="52" y2="335.3" stroke="#5a5a5a" stroke-width="0.8"/>
<text x="44.8" y="339" font-size="12.6" text-anchor="end">0.40</text>
<line x1="49" y1="308.18" x2="52" y2="308.18" stroke="#5a5a5a" stroke-width="0.8"/>
<text x="44.8" y="311.88" font-size="12.6" text-anchor="end">0.44</text>
<line x1="49" y1="281.06" x2="52" y2="281.06" stroke="#5a5a5a" stroke-width="0.8"/>
<text x="44.8" y="284.76" font-size="12.6" text-anchor="end">0.48</text>
<line x1="49" y1="253.94" x2="52" y2="253.94" stroke="#5a5a5a" stroke-width="0.8"/>
<text x="44.8" y="257.64" font-size="12.6" text-anchor="end">0.52</text>
<line x1="49" y1="226.82" x2="52" y2="226.82" stroke="#5a5a5a" stroke-width="0.8"/>
<text x="44.8" y="230.52" font-size="12.6" text-anchor="end">0.56</text>
<line x1="49" y1="199.7" x2="52" y2="199.7" stroke="#5a5a5a" stroke-width="0.8"/>
<text x="44.8" y="203.4" font-size="12.6" text-anchor="end">0.60</text>
<line x1="49" y1="321.74" x2="50.5" y2="321.74" stroke="#5a5a5a" stroke-width="0.7"/>
<line x1="49" y1="294.62" x2="50.5" y2="294.62" stroke="#5a5a5a" stroke-width="0.7"/>
<line x1="49" y1="267.5" x2="50.5" y2="267.5" stroke="#5a5a5a" stroke-width="0.7"/>
<line x1="49" y1="240.38" x2="50.5" y2="240.38" stroke="#5a5a5a" stroke-width="0.7"/>
<line x1="49" y1="213.26" x2="50.5" y2="213.26" stroke="#5a5a5a" stroke-width="0.7"/>
<line x1="49" y1="348.86" x2="50.5" y2="348.86" stroke="#5a5a5a" stroke-width="0.7"/>
<text x="4.2" y="207" font-size="26">d</text>
<path d="M61.6,208 L61.92,208.27 L62.28,208.52 L62.7,208.78 L63.18,209.09 L63.72,209.48 L64.32,209.98 L64.99,210.64 L65.72,211.47 L66.53,212.51 L67.42,213.8 L68.41,215.41 L69.51,217.34 L70.71,219.52 L71.99,221.89 L73.32,224.39 L74.68,226.95 L76.06,229.51 L77.43,232 L78.77,234.35 L80.07,236.5 L81.33,238.51 L82.6,240.49 L83.86,242.42 L85.13,244.31 L86.39,246.14 L87.66,247.92 L88.92,249.64 L90.19,251.3 L91.45,252.89 L92.72,254.4 L93.98,255.83 L95.25,257.18 L96.51,258.45 L97.78,259.66 L99.04,260.81 L100.31,261.91 L101.57,262.97 L102.84,264 L104.1,265.01 L105.37,266 L106.63,266.95 L107.9,267.83 L109.16,268.65 L110.43,269.44 L111.69,270.2 L112.96,270.95 L114.22,271.71 L115.49,272.5 L116.75,273.32 L118.02,274.2 L119.28,275.13 L120.55,276.1 L121.81,277.09 L123.08,278.1 L124.34,279.13 L125.61,280.16 L126.87,281.19 L128.14,282.22 L129.4,283.22 L130.67,284.2 L131.93,285.2 L133.2,286.24 L134.46,287.3 L135.73,288.37 L136.99,289.41 L138.26,290.41 L139.52,291.34 L140.79,292.18 L142.05,292.91 L143.32,293.5 L144.58,293.95 L145.85,294.29 L147.11,294.52 L148.38,294.67 L149.64,294.74 L150.91,294.75 L152.17,294.72 L153.44,294.66 L154.7,294.58 L155.97,294.5 L157.23,294.42 L158.5,294.32 L159.76,294.2 L161.03,294.05 L162.29,293.86 L163.56,293.61 L164.82,293.32 L166.09,292.95 L167.35,292.52 L168.62,292 L169.88,291.41 L171.15,290.74 L172.41,290.02 L173.68,289.23 L174.94,288.38 L176.21,287.47 L177.47,286.5 L178.74,285.48 L180,284.42 L181.27,283.3 L182.53,282.14 L183.8,280.93 L185.06,279.67 L186.33,278.35 L187.59,276.98 L188.86,275.55 L190.12,274.06 L191.39,272.51 L192.65,270.89 L193.92,269.2 L195.24,267.32 L196.65,265.2 L198.11,262.9 L199.59,260.51 L201.03,258.12 L202.42,255.79 L203.7,253.62 L204.85,251.68 L205.82,250.04 L206.57,248.8" fill="none" stroke="#666666" stroke-width="0.75"/>
<path d="M61.6,207.2 L61.6,207.2 L61.6,207.21 L61.62,207.24 L61.64,207.29 L61.67,207.37 L61.72,207.49 L61.79,207.66 L61.89,207.89 L62.01,208.18 L62.16,208.54 L62.35,208.98 L62.57,209.52 L62.83,210.14 L63.14,210.86 L63.48,211.67 L63.87,212.56 L64.3,213.53 L64.77,214.57 L65.29,215.68 L65.85,216.86 L66.46,218.1 L67.11,219.39 L67.81,220.74 L68.56,222.13 L69.35,223.57 L70.2,225.06 L71.09,226.59 L72.05,228.17 L73.07,229.81 L74.15,231.51 L75.3,233.26 L76.52,235.08 L77.81,236.96 L79.19,238.92 L80.64,240.94 L82.18,243.03 L83.8,245.2 L85.51,247.43 L87.28,249.72 L89.13,252.03 L91.03,254.37 L92.98,256.72 L94.98,259.06 L97.01,261.39 L99.08,263.68 L101.16,265.93 L103.26,268.12 L105.37,270.23 L107.48,272.27 L109.59,274.21 L111.69,276.08 L113.8,277.87 L115.91,279.58 L118.02,281.22 L120.13,282.78 L122.24,284.28 L124.34,285.7 L126.45,287.06 L128.56,288.36 L130.67,289.6 L132.78,290.78 L134.89,291.89 L136.99,292.94 L139.1,293.91 L141.21,294.81 L143.32,295.62 L145.43,296.34 L147.54,296.97 L149.64,297.5 L151.75,297.93 L153.86,298.25 L155.97,298.45 L158.08,298.54 L160.19,298.51 L162.29,298.36 L164.4,298.1 L166.51,297.73 L168.62,297.24 L170.73,296.65 L172.84,295.95 L174.94,295.14 L177.05,294.23 L179.16,293.22 L181.27,292.1 L183.37,290.89 L185.47,289.59 L187.53,288.24 L189.55,286.85 L191.51,285.45 L193.39,284.04 L195.19,282.66 L196.89,281.32 L198.47,280.05 L199.91,278.87 L201.21,277.79 L202.35,276.83 L203.32,276.02 L204.13,275.34 L204.79,274.79 L205.32,274.35 L205.73,274 L206.04,273.74 L206.26,273.56 L206.41,273.43 L206.5,273.36 L206.55,273.32 L206.57,273.3 L206.57,273.3" fill="none" stroke="#f26a6a" stroke-width="0.75"/>
<path d="M61.6,235.3 L61.6,235.3 L61.6,235.31 L61.62,235.33 L61.64,235.37 L61.67,235.43 L61.72,235.52 L61.79,235.65 L61.89,235.83 L62.01,236.05 L62.16,236.33 L62.35,236.67 L62.57,237.08 L62.83,237.57 L63.14,238.12 L63.48,238.74 L63.87,239.42 L64.3,240.17 L64.77,240.97 L65.29,241.82 L65.85,242.72 L66.46,243.67 L67.11,244.66 L67.81,245.69 L68.56,246.75 L69.35,247.85 L70.2,248.98 L71.09,250.16 L72.05,251.39 L73.07,252.68 L74.15,254.03 L75.3,255.45 L76.52,256.95 L77.81,258.54 L79.19,260.21 L80.64,261.99 L82.18,263.87 L83.8,265.85 L85.51,267.93 L87.28,270.08 L89.13,272.28 L91.03,274.52 L92.98,276.76 L94.98,279.01 L97.01,281.22 L99.08,283.4 L101.16,285.51 L103.26,287.53 L105.37,289.45 L107.48,291.25 L109.59,292.95 L111.69,294.54 L113.8,296.05 L115.91,297.49 L118.02,298.87 L120.13,300.2 L122.24,301.5 L124.34,302.77 L126.45,304.04 L128.56,305.31 L130.67,306.6 L132.78,307.91 L134.89,309.23 L136.99,310.55 L139.1,311.84 L141.21,313.09 L143.32,314.28 L145.43,315.4 L147.54,316.41 L149.64,317.32 L151.75,318.09 L153.86,318.71 L155.97,319.17 L158.08,319.44 L160.19,319.54 L162.29,319.46 L164.4,319.22 L166.51,318.81 L168.62,318.25 L170.73,317.53 L172.84,316.67 L174.94,315.67 L177.05,314.54 L179.16,313.28 L181.27,311.9 L183.37,310.4 L185.47,308.82 L187.53,307.16 L189.55,305.46 L191.51,303.75 L193.39,302.04 L195.19,300.36 L196.89,298.73 L198.47,297.19 L199.91,295.75 L201.21,294.44 L202.35,293.28 L203.32,292.3 L204.13,291.48 L204.79,290.81 L205.32,290.27 L205.73,289.85 L206.04,289.54 L206.26,289.31 L206.41,289.16 L206.5,289.07 L206.55,289.02 L206.57,289 L206.57,289" fill="none" stroke="#3f7fe6" stroke-width="0.75"/>
<path d="M61.6,251.7 L61.6,251.7 L61.6,251.71 L61.62,251.72 L61.64,251.74 L61.67,251.78 L61.72,251.84 L61.79,251.92 L61.89,252.04 L62.01,252.18 L62.16,252.36 L62.35,252.57 L62.57,252.83 L62.83,253.14 L63.14,253.49 L63.48,253.9 L63.87,254.35 L64.3,254.85 L64.77,255.39 L65.29,255.99 L65.85,256.63 L66.46,257.32 L67.11,258.07 L67.81,258.86 L68.56,259.7 L69.35,260.59 L70.2,261.54 L71.09,262.55 L72.05,263.62 L73.07,264.76 L74.15,265.98 L75.3,267.28 L76.52,268.67 L77.81,270.14 L79.19,271.72 L80.64,273.39 L82.18,275.17 L83.8,277.05 L85.51,279.03 L87.28,281.09 L89.13,283.21 L91.03,285.37 L92.98,287.55 L94.98,289.75 L97.01,291.93 L99.08,294.09 L101.16,296.21 L103.26,298.27 L105.37,300.25 L107.48,302.14 L109.59,303.95 L111.69,305.67 L113.8,307.32 L115.91,308.91 L118.02,310.44 L120.13,311.92 L122.24,313.35 L124.34,314.74 L126.45,316.1 L128.56,317.44 L130.67,318.77 L132.78,320.08 L134.89,321.36 L136.99,322.62 L139.1,323.83 L141.21,324.97 L143.32,326.05 L145.43,327.05 L147.54,327.95 L149.64,328.74 L151.75,329.41 L153.86,329.95 L155.97,330.35 L158.08,330.59 L160.19,330.68 L162.29,330.61 L164.4,330.37 L166.51,329.98 L168.62,329.43 L170.73,328.71 L172.84,327.84 L174.94,326.8 L177.05,325.59 L179.16,324.22 L181.27,322.68 L183.37,320.98 L185.47,319.15 L187.53,317.21 L189.55,315.2 L191.51,313.16 L193.39,311.1 L195.19,309.08 L196.89,307.11 L198.47,305.23 L199.91,303.47 L201.21,301.87 L202.35,300.45 L203.32,299.24 L204.13,298.24 L204.79,297.41 L205.32,296.76 L205.73,296.24 L206.04,295.86 L206.26,295.58 L206.41,295.39 L206.5,295.28 L206.55,295.22 L206.57,295.2 L206.57,295.2" fill="none" stroke="#4cb57c" stroke-width="0.75"/>
<path d="M61.6,210.5 L61.6,210.5 L61.6,210.51 L61.62,210.52 L61.64,210.55 L61.67,210.6 L61.72,210.67 L61.79,210.77 L61.89,210.91 L62.01,211.08 L62.16,211.3 L62.35,211.57 L62.57,211.88 L62.83,212.26 L63.14,212.69 L63.48,213.18 L63.87,213.73 L64.3,214.35 L64.77,215.02 L65.29,215.75 L65.85,216.55 L66.46,217.41 L67.11,218.33 L67.81,219.32 L68.56,220.37 L69.35,221.48 L70.2,222.67 L71.09,223.92 L72.05,225.24 L73.07,226.63 L74.15,228.09 L75.3,229.63 L76.52,231.24 L77.81,232.93 L79.19,234.7 L80.64,236.54 L82.18,238.47 L83.8,240.47 L85.51,242.55 L87.28,244.68 L89.13,246.85 L91.03,249.05 L92.98,251.26 L94.98,253.48 L97.01,255.68 L99.08,257.86 L101.16,260 L103.26,262.09 L105.37,264.12 L107.48,266.07 L109.59,267.94 L111.69,269.76 L113.8,271.52 L115.91,273.22 L118.02,274.89 L120.13,276.52 L122.24,278.12 L124.34,279.7 L126.45,281.27 L128.56,282.84 L130.67,284.4 L132.78,285.97 L134.89,287.53 L136.99,289.07 L139.1,290.57 L141.21,292.02 L143.32,293.4 L145.43,294.7 L147.54,295.9 L149.64,296.99 L151.75,297.95 L153.86,298.76 L155.97,299.42 L158.08,299.9 L160.19,300.2 L162.29,300.32 L164.4,300.26 L166.51,300 L168.62,299.54 L170.73,298.88 L172.84,298.02 L174.94,296.94 L177.05,295.65 L179.16,294.14 L181.27,292.4 L183.37,290.44 L185.47,288.3 L187.53,286.01 L189.55,283.61 L191.51,281.15 L193.39,278.67 L195.19,276.21 L196.89,273.81 L198.47,271.51 L199.91,269.36 L201.21,267.39 L202.35,265.65 L203.32,264.17 L204.13,262.93 L204.79,261.92 L205.32,261.11 L205.73,260.48 L206.04,260.01 L206.26,259.67 L206.41,259.44 L206.5,259.3 L206.55,259.23 L206.57,259.2 L206.57,259.2" fill="none" stroke="#b57ff0" stroke-width="0.75"/>
<path d="M61.6,227.4 L61.6,227.4 L61.6,227.41 L61.62,227.42 L61.64,227.45 L61.67,227.49 L61.72,227.56 L61.79,227.66 L61.89,227.79 L62.01,227.95 L62.16,228.15 L62.35,228.4 L62.57,228.7 L62.83,229.05 L63.14,229.46 L63.48,229.92 L63.87,230.44 L64.3,231.01 L64.77,231.64 L65.29,232.33 L65.85,233.08 L66.46,233.88 L67.11,234.75 L67.81,235.67 L68.56,236.65 L69.35,237.69 L70.2,238.8 L71.09,239.97 L72.05,241.21 L73.07,242.53 L74.15,243.91 L75.3,245.38 L76.52,246.92 L77.81,248.55 L79.19,250.26 L80.64,252.06 L82.18,253.95 L83.8,255.93 L85.51,257.99 L87.28,260.12 L89.13,262.29 L91.03,264.49 L92.98,266.71 L94.98,268.94 L97.01,271.15 L99.08,273.33 L101.16,275.47 L103.26,277.55 L105.37,279.55 L107.48,281.47 L109.59,283.3 L111.69,285.06 L113.8,286.75 L115.91,288.38 L118.02,289.95 L120.13,291.48 L122.24,292.96 L124.34,294.4 L126.45,295.81 L128.56,297.21 L130.67,298.58 L132.78,299.95 L134.89,301.29 L136.99,302.59 L139.1,303.84 L141.21,305.03 L143.32,306.14 L145.43,307.15 L147.54,308.06 L149.64,308.84 L151.75,309.49 L153.86,309.98 L155.97,310.32 L158.08,310.47 L160.19,310.45 L162.29,310.24 L164.4,309.86 L166.51,309.29 L168.62,308.53 L170.73,307.59 L172.84,306.45 L174.94,305.13 L177.05,303.62 L179.16,301.92 L181.27,300.02 L183.37,297.93 L185.47,295.69 L187.53,293.32 L189.55,290.88 L191.51,288.4 L193.39,285.91 L195.19,283.45 L196.89,281.07 L198.47,278.8 L199.91,276.68 L201.21,274.74 L202.35,273.03 L203.32,271.58 L204.13,270.37 L204.79,269.37 L205.32,268.58 L205.73,267.96 L206.04,267.49 L206.26,267.16 L206.41,266.93 L206.5,266.8 L206.55,266.73 L206.57,266.7 L206.57,266.7" fill="none" stroke="#d6a32a" stroke-width="0.75"/>
<rect x="59.65" y="206.05" width="3.9" height="3.9" fill="#fff" stroke="#666666" stroke-width="0.8"/>
<rect x="65.47" y="211.85" width="3.9" height="3.9" fill="#fff" stroke="#666666" stroke-width="0.8"/>
<rect x="78.12" y="234.55" width="3.9" height="3.9" fill="#fff" stroke="#666666" stroke-width="0.8"/>
<rect x="90.77" y="252.45" width="3.9" height="3.9" fill="#fff" stroke="#666666" stroke-width="0.8"/>
<rect x="103.42" y="264.05" width="3.9" height="3.9" fill="#fff" stroke="#666666" stroke-width="0.8"/>
<rect x="116.07" y="272.25" width="3.9" height="3.9" fill="#fff" stroke="#666666" stroke-width="0.8"/>
<rect x="128.72" y="282.25" width="3.9" height="3.9" fill="#fff" stroke="#666666" stroke-width="0.8"/>
<rect x="141.37" y="291.55" width="3.9" height="3.9" fill="#fff" stroke="#666666" stroke-width="0.8"/>
<rect x="154.02" y="292.55" width="3.9" height="3.9" fill="#fff" stroke="#666666" stroke-width="0.8"/>
<rect x="166.67" y="290.05" width="3.9" height="3.9" fill="#fff" stroke="#666666" stroke-width="0.8"/>
<rect x="179.32" y="281.35" width="3.9" height="3.9" fill="#fff" stroke="#666666" stroke-width="0.8"/>
<rect x="191.97" y="267.25" width="3.9" height="3.9" fill="#fff" stroke="#666666" stroke-width="0.8"/>
<rect x="204.62" y="246.85" width="3.9" height="3.9" fill="#fff" stroke="#666666" stroke-width="0.8"/>
<circle cx="61.6" cy="207.2" r="2.35" fill="#fff" stroke="#f26a6a" stroke-width="0.8"/>
<circle cx="67.42" cy="221.1" r="2.35" fill="#fff" stroke="#f26a6a" stroke-width="0.8"/>
<circle cx="80.07" cy="241.2" r="2.35" fill="#fff" stroke="#f26a6a" stroke-width="0.8"/>
<circle cx="105.37" cy="272.3" r="2.35" fill="#fff" stroke="#f26a6a" stroke-width="0.8"/>
<circle cx="130.67" cy="291" r="2.35" fill="#fff" stroke="#f26a6a" stroke-width="0.8"/>
<circle cx="155.97" cy="301.3" r="2.35" fill="#fff" stroke="#f26a6a" stroke-width="0.8"/>
<circle cx="181.27" cy="294.5" r="2.35" fill="#fff" stroke="#f26a6a" stroke-width="0.8"/>
<circle cx="206.57" cy="273.3" r="2.35" fill="#fff" stroke="#f26a6a" stroke-width="0.8"/>
<polygon points="61.6,232.55 64.21,237.09 58.99,237.09" fill="#fff" stroke="#3f7fe6" stroke-width="0.8"/>
<polygon points="67.42,243.25 70.03,247.79 64.81,247.79" fill="#fff" stroke="#3f7fe6" stroke-width="0.8"/>
<polygon points="80.07,258.45 82.68,262.99 77.46,262.99" fill="#fff" stroke="#3f7fe6" stroke-width="0.8"/>
<polygon points="105.37,289.65 107.98,294.19 102.76,294.19" fill="#fff" stroke="#3f7fe6" stroke-width="0.8"/>
<polygon points="130.67,303.15 133.28,307.69 128.06,307.69" fill="#fff" stroke="#3f7fe6" stroke-width="0.8"/>
<polygon points="155.97,320.85 158.58,325.39 153.36,325.39" fill="#fff" stroke="#3f7fe6" stroke-width="0.8"/>
<polygon points="181.27,311.95 183.88,316.49 178.66,316.49" fill="#fff" stroke="#3f7fe6" stroke-width="0.8"/>
<polygon points="206.57,286.25 209.18,290.79 203.96,290.79" fill="#fff" stroke="#3f7fe6" stroke-width="0.8"/>
<polygon points="61.6,254.45 64.21,249.91 58.99,249.91" fill="#fff" stroke="#4cb57c" stroke-width="0.8"/>
<polygon points="67.42,261.25 70.03,256.71 64.81,256.71" fill="#fff" stroke="#4cb57c" stroke-width="0.8"/>
<polygon points="80.07,275.25 82.68,270.71 77.46,270.71" fill="#fff" stroke="#4cb57c" stroke-width="0.8"/>
<polygon points="105.37,305.25 107.98,300.71 102.76,300.71" fill="#fff" stroke="#4cb57c" stroke-width="0.8"/>
<polygon points="130.67,321.75 133.28,317.21 128.06,317.21" fill="#fff" stroke="#4cb57c" stroke-width="0.8"/>
<polygon points="155.97,336.85 158.58,332.31 153.36,332.31" fill="#fff" stroke="#4cb57c" stroke-width="0.8"/>
<polygon points="181.27,329.45 183.88,324.91 178.66,324.91" fill="#fff" stroke="#4cb57c" stroke-width="0.8"/>
<polygon points="206.57,297.95 209.18,293.41 203.96,293.41" fill="#fff" stroke="#4cb57c" stroke-width="0.8"/>
<polygon points="61.6,207.75 64.35,210.5 61.6,213.25 58.85,210.5" fill="#fff" stroke="#b57ff0" stroke-width="0.8"/>
<polygon points="67.42,216.05 70.17,218.8 67.42,221.55 64.67,218.8" fill="#fff" stroke="#b57ff0" stroke-width="0.8"/>
<polygon points="80.07,233.75 82.82,236.5 80.07,239.25 77.32,236.5" fill="#fff" stroke="#b57ff0" stroke-width="0.8"/>
<polygon points="105.37,263.25 108.12,266 105.37,268.75 102.62,266" fill="#fff" stroke="#b57ff0" stroke-width="0.8"/>
<polygon points="130.67,281.45 133.42,284.2 130.67,286.95 127.92,284.2" fill="#fff" stroke="#b57ff0" stroke-width="0.8"/>
<polygon points="155.97,300.85 158.72,303.6 155.97,306.35 153.22,303.6" fill="#fff" stroke="#b57ff0" stroke-width="0.8"/>
<polygon points="181.27,295.15 184.02,297.9 181.27,300.65 178.52,297.9" fill="#fff" stroke="#b57ff0" stroke-width="0.8"/>
<polygon points="206.57,256.45 209.32,259.2 206.57,261.95 203.82,259.2" fill="#fff" stroke="#b57ff0" stroke-width="0.8"/>
<polygon points="58.85,227.4 63.39,224.79 63.39,230.01" fill="#fff" stroke="#d6a32a" stroke-width="0.8"/>
<polygon points="64.67,235.2 69.21,232.59 69.21,237.81" fill="#fff" stroke="#d6a32a" stroke-width="0.8"/>
<polygon points="77.32,251.7 81.86,249.09 81.86,254.31" fill="#fff" stroke="#d6a32a" stroke-width="0.8"/>
<polygon points="102.62,281.7 107.16,279.09 107.16,284.31" fill="#fff" stroke="#d6a32a" stroke-width="0.8"/>
<polygon points="127.92,298.8 132.46,296.19 132.46,301.41" fill="#fff" stroke="#d6a32a" stroke-width="0.8"/>
<polygon points="153.22,314.6 157.76,311.99 157.76,317.21" fill="#fff" stroke="#d6a32a" stroke-width="0.8"/>
<polygon points="178.52,304.7 183.06,302.09 183.06,307.31" fill="#fff" stroke="#d6a32a" stroke-width="0.8"/>
<polygon points="203.82,266.7 208.36,264.09 208.36,269.31" fill="#fff" stroke="#d6a32a" stroke-width="0.8"/>
<text x="54.6" y="333.8" font-size="11.3">LiMn<tspan font-size="7.9" dy="2.6">1-<tspan font-style="italic">x</tspan></tspan><tspan dy="-2.6">SbTe</tspan><tspan font-size="7.9" dy="2.6">3</tspan></text>
<line x1="102.2" y1="208.5" x2="122.7" y2="208.5" stroke="#666666" stroke-width="0.7"/>
<rect x="110.84" y="206.84" width="3.31" height="3.31" fill="#fff" stroke="#666666" stroke-width="0.8"/>
<text x="126.2" y="211.8" font-size="9.4"><tspan font-style="italic">x</tspan> = 0.00</text>
<line x1="102.2" y1="220.5" x2="122.7" y2="220.5" stroke="#f26a6a" stroke-width="0.7"/>
<circle cx="112.5" cy="220.5" r="2.35" fill="#fff" stroke="#f26a6a" stroke-width="0.8"/>
<text x="126.2" y="223.8" font-size="9.4"><tspan font-style="italic">x</tspan> = 0.02</text>
<line x1="102.2" y1="232.5" x2="122.7" y2="232.5" stroke="#3f7fe6" stroke-width="0.7"/>
<polygon points="112.5,229.75 115.11,234.29 109.89,234.29" fill="#fff" stroke="#3f7fe6" stroke-width="0.8"/>
<text x="126.2" y="235.8" font-size="9.4"><tspan font-style="italic">x</tspan> = 0.04</text>
<line x1="102.2" y1="243.5" x2="122.7" y2="243.5" stroke="#4cb57c" stroke-width="0.7"/>
<polygon points="112.5,246.25 115.11,241.71 109.89,241.71" fill="#fff" stroke="#4cb57c" stroke-width="0.8"/>
<text x="126.2" y="246.8" font-size="9.4"><tspan font-style="italic">x</tspan> = 0.06</text>
<line x1="162.3" y1="209.5" x2="182.8" y2="209.5" stroke="#b57ff0" stroke-width="0.7"/>
<polygon points="172.6,206.75 175.35,209.5 172.6,212.25 169.85,209.5" fill="#fff" stroke="#b57ff0" stroke-width="0.8"/>
<text x="186.3" y="212.8" font-size="9.4"><tspan font-style="italic">x</tspan> = 0.08</text>
<line x1="162.3" y1="220.5" x2="182.8" y2="220.5" stroke="#d6a32a" stroke-width="0.7"/>
<polygon points="169.85,220.5 174.39,217.89 174.39,223.11" fill="#fff" stroke="#d6a32a" stroke-width="0.8"/>
<text x="186.3" y="223.8" font-size="9.4"><tspan font-style="italic">x</tspan> = 0.10</text>
<text transform="translate(16.6,272.6) rotate(-90)" font-size="16" text-anchor="middle"><tspan font-style="italic">κ</tspan> (Wm<tspan font-size="10.6" dy="-6.3">-1</tspan><tspan dy="6.3">K</tspan><tspan font-size="10.6" dy="-6.3">-1</tspan><tspan dy="6.3">)</tspan></text>
<rect x="279.6" y="197.8" width="179.6" height="151.1" fill="none" stroke="#5a5a5a" stroke-width="1.05"/>
<line x1="292.3" y1="348.9" x2="292.3" y2="345.9" stroke="#5a5a5a" stroke-width="0.8"/>
<text x="292.3" y="362.5" font-size="12.6" text-anchor="middle">300</text>
<line x1="330.77" y1="348.9" x2="330.77" y2="345.9" stroke="#5a5a5a" stroke-width="0.8"/>
<text x="330.77" y="362.5" font-size="12.6" text-anchor="middle">450</text>
<line x1="369.25" y1="348.9" x2="369.25" y2="345.9" stroke="#5a5a5a" stroke-width="0.8"/>
<text x="369.25" y="362.5" font-size="12.6" text-anchor="middle">600</text>
<line x1="407.72" y1="348.9" x2="407.72" y2="345.9" stroke="#5a5a5a" stroke-width="0.8"/>
<text x="407.72" y="362.5" font-size="12.6" text-anchor="middle">750</text>
<line x1="446.2" y1="348.9" x2="446.2" y2="345.9" stroke="#5a5a5a" stroke-width="0.8"/>
<text x="446.2" y="362.5" font-size="12.6" text-anchor="middle">900</text>
<line x1="311.54" y1="348.9" x2="311.54" y2="347.2" stroke="#5a5a5a" stroke-width="0.8"/>
<line x1="350.01" y1="348.9" x2="350.01" y2="347.2" stroke="#5a5a5a" stroke-width="0.8"/>
<line x1="388.49" y1="348.9" x2="388.49" y2="347.2" stroke="#5a5a5a" stroke-width="0.8"/>
<line x1="426.96" y1="348.9" x2="426.96" y2="347.2" stroke="#5a5a5a" stroke-width="0.8"/>
<text x="369.4" y="379.5" font-size="16" text-anchor="middle"><tspan font-style="italic">T</tspan> (K)</text>
<line x1="279.6" y1="336.6" x2="282.6" y2="336.6" stroke="#5a5a5a" stroke-width="0.8"/>
<text x="275.4" y="340.3" font-size="12.6" text-anchor="end">0.30</text>
<line x1="279.6" y1="311.72" x2="282.6" y2="311.72" stroke="#5a5a5a" stroke-width="0.8"/>
<text x="275.4" y="315.42" font-size="12.6" text-anchor="end">0.35</text>
<line x1="279.6" y1="286.84" x2="282.6" y2="286.84" stroke="#5a5a5a" stroke-width="0.8"/>
<text x="275.4" y="290.54" font-size="12.6" text-anchor="end">0.40</text>
<line x1="279.6" y1="261.96" x2="282.6" y2="261.96" stroke="#5a5a5a" stroke-width="0.8"/>
<text x="275.4" y="265.66" font-size="12.6" text-anchor="end">0.45</text>
<line x1="279.6" y1="237.08" x2="282.6" y2="237.08" stroke="#5a5a5a" stroke-width="0.8"/>
<text x="275.4" y="240.78" font-size="12.6" text-anchor="end">0.50</text>
<line x1="279.6" y1="212.2" x2="282.6" y2="212.2" stroke="#5a5a5a" stroke-width="0.8"/>
<text x="275.4" y="215.9" font-size="12.6" text-anchor="end">0.55</text>
<line x1="279.6" y1="324.16" x2="281.1" y2="324.16" stroke="#5a5a5a" stroke-width="0.7"/>
<line x1="279.6" y1="299.28" x2="281.1" y2="299.28" stroke="#5a5a5a" stroke-width="0.7"/>
<line x1="279.6" y1="274.4" x2="281.1" y2="274.4" stroke="#5a5a5a" stroke-width="0.7"/>
<line x1="279.6" y1="249.52" x2="281.1" y2="249.52" stroke="#5a5a5a" stroke-width="0.7"/>
<line x1="279.6" y1="224.64" x2="281.1" y2="224.64" stroke="#5a5a5a" stroke-width="0.7"/>
<line x1="279.6" y1="199.76" x2="281.1" y2="199.76" stroke="#5a5a5a" stroke-width="0.7"/>
<line x1="279.6" y1="349.04" x2="281.1" y2="349.04" stroke="#5a5a5a" stroke-width="0.7"/>
<text x="238" y="206.8" font-size="27">e</text>
<path d="M292.3,205.4 L298.2,209 L311.02,227.2 L323.85,241.3 L336.67,250.6 L349.5,257.3 L362.32,266.1 L375.15,272.2 L387.97,277.4 L400.8,284.3 L413.62,290 L426.45,298 L439.27,298" fill="none" stroke="#666666" stroke-width="0.75"/>
<path d="M292.3,211 L298.2,221 L311.02,239.7 L336.67,264 L362.32,280.8 L387.97,289.4 L413.62,306 L439.27,323.2" fill="none" stroke="#f26a6a" stroke-width="0.75"/>
<path d="M292.3,231.1 L298.2,240.6 L311.02,253.2 L336.67,276.9 L362.32,290.9 L387.97,306.6 L413.62,318.1 L439.27,331" fill="none" stroke="#3f7fe6" stroke-width="0.75"/>
<path d="M292.3,242.9 L298.2,247.5 L311.02,260.5 L336.67,283.7 L362.32,300.3 L387.97,315.2 L413.62,327.3 L439.27,335.3" fill="none" stroke="#4cb57c" stroke-width="0.75"/>
<path d="M292.3,212.3 L298.2,219.4 L311.02,234.5 L336.67,257.4 L362.32,272.1 L387.97,290 L413.62,308 L439.27,311.8" fill="none" stroke="#b57ff0" stroke-width="0.75"/>
<path d="M292.3,219.2 L298.2,225.9 L311.02,239.1 L336.67,262.6 L362.32,277.4 L387.97,290.9 L413.62,303.8 L439.27,308" fill="none" stroke="#d6a32a" stroke-width="0.75"/>
<rect x="290.35" y="203.45" width="3.9" height="3.9" fill="#fff" stroke="#666666" stroke-width="0.8"/>
<rect x="296.25" y="207.05" width="3.9" height="3.9" fill="#fff" stroke="#666666" stroke-width="0.8"/>
<rect x="309.07" y="225.25" width="3.9" height="3.9" fill="#fff" stroke="#666666" stroke-width="0.8"/>
<rect x="321.9" y="239.35" width="3.9" height="3.9" fill="#fff" stroke="#666666" stroke-width="0.8"/>
<rect x="334.72" y="248.65" width="3.9" height="3.9" fill="#fff" stroke="#666666" stroke-width="0.8"/>
<rect x="347.55" y="255.35" width="3.9" height="3.9" fill="#fff" stroke="#666666" stroke-width="0.8"/>
<rect x="360.37" y="264.15" width="3.9" height="3.9" fill="#fff" stroke="#666666" stroke-width="0.8"/>
<rect x="373.2" y="270.25" width="3.9" height="3.9" fill="#fff" stroke="#666666" stroke-width="0.8"/>
<rect x="386.02" y="275.45" width="3.9" height="3.9" fill="#fff" stroke="#666666" stroke-width="0.8"/>
<rect x="398.85" y="282.35" width="3.9" height="3.9" fill="#fff" stroke="#666666" stroke-width="0.8"/>
<rect x="411.67" y="288.05" width="3.9" height="3.9" fill="#fff" stroke="#666666" stroke-width="0.8"/>
<rect x="424.5" y="296.05" width="3.9" height="3.9" fill="#fff" stroke="#666666" stroke-width="0.8"/>
<rect x="437.32" y="296.05" width="3.9" height="3.9" fill="#fff" stroke="#666666" stroke-width="0.8"/>
<circle cx="292.3" cy="211" r="2.35" fill="#fff" stroke="#f26a6a" stroke-width="0.8"/>
<circle cx="298.2" cy="221" r="2.35" fill="#fff" stroke="#f26a6a" stroke-width="0.8"/>
<circle cx="311.02" cy="239.7" r="2.35" fill="#fff" stroke="#f26a6a" stroke-width="0.8"/>
<circle cx="336.67" cy="264" r="2.35" fill="#fff" stroke="#f26a6a" stroke-width="0.8"/>
<circle cx="362.32" cy="280.8" r="2.35" fill="#fff" stroke="#f26a6a" stroke-width="0.8"/>
<circle cx="387.97" cy="289.4" r="2.35" fill="#fff" stroke="#f26a6a" stroke-width="0.8"/>
<circle cx="413.62" cy="306" r="2.35" fill="#fff" stroke="#f26a6a" stroke-width="0.8"/>
<circle cx="439.27" cy="323.2" r="2.35" fill="#fff" stroke="#f26a6a" stroke-width="0.8"/>
<polygon points="292.3,228.35 294.91,232.89 289.69,232.89" fill="#fff" stroke="#3f7fe6" stroke-width="0.8"/>
<polygon points="298.2,237.85 300.81,242.39 295.59,242.39" fill="#fff" stroke="#3f7fe6" stroke-width="0.8"/>
<polygon points="311.02,250.45 313.64,254.99 308.41,254.99" fill="#fff" stroke="#3f7fe6" stroke-width="0.8"/>
<polygon points="336.67,274.15 339.29,278.69 334.06,278.69" fill="#fff" stroke="#3f7fe6" stroke-width="0.8"/>
<polygon points="362.32,288.15 364.94,292.69 359.71,292.69" fill="#fff" stroke="#3f7fe6" stroke-width="0.8"/>
<polygon points="387.97,303.85 390.59,308.39 385.36,308.39" fill="#fff" stroke="#3f7fe6" stroke-width="0.8"/>
<polygon points="413.62,315.35 416.24,319.89 411.01,319.89" fill="#fff" stroke="#3f7fe6" stroke-width="0.8"/>
<polygon points="439.27,328.25 441.89,332.79 436.66,332.79" fill="#fff" stroke="#3f7fe6" stroke-width="0.8"/>
<polygon points="292.3,245.65 294.91,241.11 289.69,241.11" fill="#fff" stroke="#4cb57c" stroke-width="0.8"/>
<polygon points="298.2,250.25 300.81,245.71 295.59,245.71" fill="#fff" stroke="#4cb57c" stroke-width="0.8"/>
<polygon points="311.02,263.25 313.64,258.71 308.41,258.71" fill="#fff" stroke="#4cb57c" stroke-width="0.8"/>
<polygon points="336.67,286.45 339.29,281.91 334.06,281.91" fill="#fff" stroke="#4cb57c" stroke-width="0.8"/>
<polygon points="362.32,303.05 364.94,298.51 359.71,298.51" fill="#fff" stroke="#4cb57c" stroke-width="0.8"/>
<polygon points="387.97,317.95 390.59,313.41 385.36,313.41" fill="#fff" stroke="#4cb57c" stroke-width="0.8"/>
<polygon points="413.62,330.05 416.24,325.51 411.01,325.51" fill="#fff" stroke="#4cb57c" stroke-width="0.8"/>
<polygon points="439.27,338.05 441.89,333.51 436.66,333.51" fill="#fff" stroke="#4cb57c" stroke-width="0.8"/>
<polygon points="292.3,209.55 295.05,212.3 292.3,215.05 289.55,212.3" fill="#fff" stroke="#b57ff0" stroke-width="0.8"/>
<polygon points="298.2,216.65 300.95,219.4 298.2,222.15 295.45,219.4" fill="#fff" stroke="#b57ff0" stroke-width="0.8"/>
<polygon points="311.02,231.75 313.77,234.5 311.02,237.25 308.27,234.5" fill="#fff" stroke="#b57ff0" stroke-width="0.8"/>
<polygon points="336.67,254.65 339.42,257.4 336.67,260.15 333.92,257.4" fill="#fff" stroke="#b57ff0" stroke-width="0.8"/>
<polygon points="362.32,269.35 365.07,272.1 362.32,274.85 359.57,272.1" fill="#fff" stroke="#b57ff0" stroke-width="0.8"/>
<polygon points="387.97,287.25 390.72,290 387.97,292.75 385.22,290" fill="#fff" stroke="#b57ff0" stroke-width="0.8"/>
<polygon points="413.62,305.25 416.37,308 413.62,310.75 410.87,308" fill="#fff" stroke="#b57ff0" stroke-width="0.8"/>
<polygon points="439.27,309.05 442.02,311.8 439.27,314.55 436.52,311.8" fill="#fff" stroke="#b57ff0" stroke-width="0.8"/>
<polygon points="289.55,219.2 294.09,216.59 294.09,221.81" fill="#fff" stroke="#d6a32a" stroke-width="0.8"/>
<polygon points="295.45,225.9 299.99,223.29 299.99,228.51" fill="#fff" stroke="#d6a32a" stroke-width="0.8"/>
<polygon points="308.27,239.1 312.81,236.49 312.81,241.71" fill="#fff" stroke="#d6a32a" stroke-width="0.8"/>
<polygon points="333.92,262.6 338.46,259.99 338.46,265.21" fill="#fff" stroke="#d6a32a" stroke-width="0.8"/>
<polygon points="359.57,277.4 364.11,274.79 364.11,280.01" fill="#fff" stroke="#d6a32a" stroke-width="0.8"/>
<polygon points="385.22,290.9 389.76,288.29 389.76,293.51" fill="#fff" stroke="#d6a32a" stroke-width="0.8"/>
<polygon points="410.87,303.8 415.41,301.19 415.41,306.41" fill="#fff" stroke="#d6a32a" stroke-width="0.8"/>
<polygon points="436.52,308 441.06,305.39 441.06,310.61" fill="#fff" stroke="#d6a32a" stroke-width="0.8"/>
<text x="289.2" y="335.9" font-size="11.3">LiMn<tspan font-size="7.9" dy="2.6">1-<tspan font-style="italic">x</tspan></tspan><tspan dy="-2.6">SbTe</tspan><tspan font-size="7.9" dy="2.6">3</tspan></text>
<line x1="395.5" y1="206.5" x2="416" y2="206.5" stroke="#666666" stroke-width="0.7"/>
<rect x="404.14" y="204.84" width="3.31" height="3.31" fill="#fff" stroke="#666666" stroke-width="0.8"/>
<text x="419.5" y="209.8" font-size="9.4"><tspan font-style="italic">x</tspan> = 0.00</text>
<line x1="395.5" y1="218.5" x2="416" y2="218.5" stroke="#f26a6a" stroke-width="0.7"/>
<circle cx="405.8" cy="218.5" r="2.35" fill="#fff" stroke="#f26a6a" stroke-width="0.8"/>
<text x="419.5" y="221.8" font-size="9.4"><tspan font-style="italic">x</tspan> = 0.02</text>
<line x1="395.5" y1="229.5" x2="416" y2="229.5" stroke="#3f7fe6" stroke-width="0.7"/>
<polygon points="405.8,226.75 408.41,231.29 403.19,231.29" fill="#fff" stroke="#3f7fe6" stroke-width="0.8"/>
<text x="419.5" y="232.8" font-size="9.4"><tspan font-style="italic">x</tspan> = 0.04</text>
<line x1="395.5" y1="241.5" x2="416" y2="241.5" stroke="#4cb57c" stroke-width="0.7"/>
<polygon points="405.8,244.25 408.41,239.71 403.19,239.71" fill="#fff" stroke="#4cb57c" stroke-width="0.8"/>
<text x="419.5" y="244.8" font-size="9.4"><tspan font-style="italic">x</tspan> = 0.06</text>
<line x1="395.5" y1="253.5" x2="416" y2="253.5" stroke="#b57ff0" stroke-width="0.7"/>
<polygon points="405.8,250.75 408.55,253.5 405.8,256.25 403.05,253.5" fill="#fff" stroke="#b57ff0" stroke-width="0.8"/>
<text x="419.5" y="256.8" font-size="9.4"><tspan font-style="italic">x</tspan> = 0.08</text>
<line x1="395.5" y1="265.5" x2="416" y2="265.5" stroke="#d6a32a" stroke-width="0.7"/>
<polygon points="403.05,265.5 407.59,262.89 407.59,268.11" fill="#fff" stroke="#d6a32a" stroke-width="0.8"/>
<text x="419.5" y="268.8" font-size="9.4"><tspan font-style="italic">x</tspan> = 0.10</text>
<text transform="translate(242.4,273.3) rotate(-90)" font-size="16" text-anchor="middle"><tspan font-style="italic">κ</tspan><tspan font-size="10" dy="3">L</tspan><tspan dy="-3"> (Wm</tspan><tspan font-size="10.6" dy="-6.3">-1</tspan><tspan dy="6.3">K</tspan><tspan font-size="10.6" dy="-6.3">-1</tspan><tspan dy="6.3">)</tspan></text>
<rect x="505" y="197.6" width="179.2" height="151.6" fill="none" stroke="#5a5a5a" stroke-width="1.05"/>
<line x1="517.4" y1="349.2" x2="517.4" y2="346.2" stroke="#5a5a5a" stroke-width="0.8"/>
<text x="517.4" y="362.8" font-size="12.6" text-anchor="middle">300</text>
<line x1="555.98" y1="349.2" x2="555.98" y2="346.2" stroke="#5a5a5a" stroke-width="0.8"/>
<text x="555.98" y="362.8" font-size="12.6" text-anchor="middle">450</text>
<line x1="594.55" y1="349.2" x2="594.55" y2="346.2" stroke="#5a5a5a" stroke-width="0.8"/>
<text x="594.55" y="362.8" font-size="12.6" text-anchor="middle">600</text>
<line x1="633.12" y1="349.2" x2="633.12" y2="346.2" stroke="#5a5a5a" stroke-width="0.8"/>
<text x="633.12" y="362.8" font-size="12.6" text-anchor="middle">750</text>
<line x1="671.7" y1="349.2" x2="671.7" y2="346.2" stroke="#5a5a5a" stroke-width="0.8"/>
<text x="671.7" y="362.8" font-size="12.6" text-anchor="middle">900</text>
<line x1="536.69" y1="349.2" x2="536.69" y2="347.5" stroke="#5a5a5a" stroke-width="0.8"/>
<line x1="575.26" y1="349.2" x2="575.26" y2="347.5" stroke="#5a5a5a" stroke-width="0.8"/>
<line x1="613.84" y1="349.2" x2="613.84" y2="347.5" stroke="#5a5a5a" stroke-width="0.8"/>
<line x1="652.41" y1="349.2" x2="652.41" y2="347.5" stroke="#5a5a5a" stroke-width="0.8"/>
<text x="594.6" y="379.8" font-size="16" text-anchor="middle"><tspan font-style="italic">T</tspan> (K)</text>
<line x1="505" y1="349.1" x2="508" y2="349.1" stroke="#5a5a5a" stroke-width="0.8"/>
<text x="500.8" y="352.8" font-size="12.6" text-anchor="end">0.0</text>
<line x1="505" y1="330.18" x2="508" y2="330.18" stroke="#5a5a5a" stroke-width="0.8"/>
<text x="500.8" y="333.88" font-size="12.6" text-anchor="end">0.2</text>
<line x1="505" y1="311.25" x2="508" y2="311.25" stroke="#5a5a5a" stroke-width="0.8"/>
<text x="500.8" y="314.95" font-size="12.6" text-anchor="end">0.4</text>
<line x1="505" y1="292.33" x2="508" y2="292.33" stroke="#5a5a5a" stroke-width="0.8"/>
<text x="500.8" y="296.03" font-size="12.6" text-anchor="end">0.6</text>
<line x1="505" y1="273.4" x2="508" y2="273.4" stroke="#5a5a5a" stroke-width="0.8"/>
<text x="500.8" y="277.1" font-size="12.6" text-anchor="end">0.8</text>
<line x1="505" y1="254.48" x2="508" y2="254.48" stroke="#5a5a5a" stroke-width="0.8"/>
<text x="500.8" y="258.18" font-size="12.6" text-anchor="end">1.0</text>
<line x1="505" y1="235.56" x2="508" y2="235.56" stroke="#5a5a5a" stroke-width="0.8"/>
<text x="500.8" y="239.26" font-size="12.6" text-anchor="end">1.2</text>
<line x1="505" y1="216.63" x2="508" y2="216.63" stroke="#5a5a5a" stroke-width="0.8"/>
<text x="500.8" y="220.33" font-size="12.6" text-anchor="end">1.4</text>
<line x1="505" y1="197.71" x2="508" y2="197.71" stroke="#5a5a5a" stroke-width="0.8"/>
<text x="500.8" y="201.41" font-size="12.6" text-anchor="end">1.6</text>
<line x1="505" y1="339.64" x2="506.5" y2="339.64" stroke="#5a5a5a" stroke-width="0.7"/>
<line x1="505" y1="320.71" x2="506.5" y2="320.71" stroke="#5a5a5a" stroke-width="0.7"/>
<line x1="505" y1="301.79" x2="506.5" y2="301.79" stroke="#5a5a5a" stroke-width="0.7"/>
<line x1="505" y1="282.87" x2="506.5" y2="282.87" stroke="#5a5a5a" stroke-width="0.7"/>
<line x1="505" y1="263.94" x2="506.5" y2="263.94" stroke="#5a5a5a" stroke-width="0.7"/>
<line x1="505" y1="245.02" x2="506.5" y2="245.02" stroke="#5a5a5a" stroke-width="0.7"/>
<line x1="505" y1="226.09" x2="506.5" y2="226.09" stroke="#5a5a5a" stroke-width="0.7"/>
<line x1="505" y1="207.17" x2="506.5" y2="207.17" stroke="#5a5a5a" stroke-width="0.7"/>
<text x="470.2" y="206.6" font-size="26">f</text>
<path d="M517.4,333 L517.72,332.91 L518.09,332.82 L518.52,332.71 L519.01,332.59 L519.55,332.45 L520.17,332.28 L520.84,332.08 L521.59,331.83 L522.42,331.54 L523.31,331.2 L524.32,330.8 L525.44,330.34 L526.66,329.82 L527.96,329.27 L529.31,328.69 L530.7,328.08 L532.1,327.46 L533.49,326.83 L534.86,326.21 L536.17,325.6 L537.46,324.99 L538.74,324.36 L540.03,323.72 L541.32,323.07 L542.6,322.41 L543.89,321.76 L545.17,321.1 L546.46,320.45 L547.75,319.82 L549.03,319.2 L550.32,318.59 L551.6,317.98 L552.89,317.37 L554.17,316.76 L555.46,316.17 L556.75,315.58 L558.03,315.01 L559.32,314.45 L560.6,313.92 L561.89,313.4 L563.18,312.91 L564.46,312.44 L565.75,312 L567.03,311.57 L568.32,311.16 L569.6,310.75 L570.89,310.34 L572.18,309.94 L573.46,309.52 L574.75,309.1 L576.03,308.67 L577.32,308.24 L578.61,307.82 L579.89,307.39 L581.18,306.97 L582.46,306.54 L583.75,306.11 L585.03,305.68 L586.32,305.24 L587.61,304.8 L588.89,304.38 L590.18,304 L591.46,303.64 L592.75,303.28 L594.04,302.91 L595.32,302.51 L596.61,302.05 L597.89,301.53 L599.18,300.92 L600.46,300.2 L601.75,299.37 L603.04,298.45 L604.32,297.45 L605.61,296.38 L606.89,295.26 L608.18,294.1 L609.47,292.91 L610.75,291.7 L612.04,290.5 L613.32,289.3 L614.61,288.12 L615.89,286.93 L617.18,285.73 L618.47,284.52 L619.75,283.28 L621.04,282.01 L622.32,280.71 L623.61,279.36 L624.9,277.96 L626.18,276.5 L627.47,274.95 L628.75,273.29 L630.04,271.56 L631.32,269.77 L632.61,267.96 L633.9,266.16 L635.18,264.38 L636.47,262.66 L637.75,261.02 L639.04,259.5 L640.33,258.08 L641.61,256.73 L642.9,255.45 L644.18,254.21 L645.47,253.02 L646.75,251.86 L648.04,250.71 L649.33,249.58 L650.61,248.45 L651.9,247.3 L653.24,246.11 L654.68,244.86 L656.16,243.59 L657.66,242.32 L659.13,241.09 L660.54,239.91 L661.84,238.83 L663.01,237.86 L663.99,237.04 L664.76,236.4" fill="none" stroke="#666666" stroke-width="0.75"/>
<path d="M517.4,327.5 L517.4,327.5 L517.4,327.5 L517.42,327.49 L517.44,327.48 L517.47,327.46 L517.52,327.43 L517.6,327.39 L517.69,327.34 L517.82,327.27 L517.97,327.18 L518.16,327.08 L518.39,326.95 L518.65,326.8 L518.96,326.63 L519.31,326.43 L519.71,326.21 L520.14,325.96 L520.63,325.69 L521.15,325.39 L521.72,325.06 L522.34,324.71 L523,324.32 L523.71,323.91 L524.47,323.47 L525.28,322.99 L526.14,322.49 L527.05,321.95 L528.02,321.37 L529.06,320.75 L530.16,320.1 L531.32,319.4 L532.56,318.66 L533.88,317.88 L535.28,317.05 L536.75,316.17 L538.32,315.23 L539.97,314.25 L541.7,313.22 L543.51,312.15 L545.38,311.04 L547.31,309.9 L549.3,308.74 L551.33,307.55 L553.4,306.36 L555.49,305.15 L557.61,303.95 L559.75,302.74 L561.89,301.55 L564.03,300.37 L566.18,299.2 L568.32,298.04 L570.46,296.88 L572.61,295.72 L574.75,294.56 L576.89,293.39 L579.03,292.22 L581.18,291.02 L583.32,289.82 L585.46,288.59 L587.61,287.33 L589.75,286.05 L591.89,284.75 L594.04,283.43 L596.18,282.09 L598.32,280.75 L600.46,279.4 L602.61,278.05 L604.75,276.71 L606.89,275.38 L609.04,274.06 L611.18,272.76 L613.32,271.48 L615.47,270.23 L617.61,269.01 L619.75,267.8 L621.9,266.6 L624.04,265.4 L626.18,264.2 L628.32,263 L630.47,261.78 L632.61,260.54 L634.75,259.28 L636.9,257.98 L639.04,256.65 L641.18,255.28 L643.31,253.87 L645.4,252.46 L647.45,251.04 L649.45,249.64 L651.36,248.27 L653.19,246.95 L654.91,245.69 L656.52,244.5 L657.99,243.4 L659.31,242.41 L660.47,241.53 L661.46,240.79 L662.28,240.17 L662.95,239.66 L663.49,239.26 L663.91,238.94 L664.22,238.7 L664.45,238.53 L664.6,238.42 L664.69,238.35 L664.74,238.31 L664.75,238.3 L664.76,238.3" fill="none" stroke="#f26a6a" stroke-width="0.75"/>
<path d="M517.4,324 L517.4,324 L517.4,324 L517.42,323.99 L517.44,323.98 L517.47,323.95 L517.52,323.92 L517.6,323.87 L517.69,323.8 L517.82,323.72 L517.97,323.61 L518.16,323.49 L518.39,323.33 L518.65,323.15 L518.96,322.94 L519.31,322.71 L519.71,322.45 L520.14,322.16 L520.63,321.84 L521.15,321.49 L521.72,321.12 L522.34,320.72 L523,320.3 L523.71,319.85 L524.47,319.37 L525.28,318.86 L526.14,318.33 L527.05,317.77 L528.02,317.18 L529.06,316.56 L530.16,315.91 L531.32,315.24 L532.56,314.52 L533.88,313.78 L535.28,313.01 L536.75,312.19 L538.32,311.35 L539.97,310.47 L541.7,309.56 L543.51,308.62 L545.38,307.65 L547.31,306.66 L549.3,305.65 L551.33,304.62 L553.4,303.58 L555.49,302.53 L557.61,301.47 L559.75,300.4 L561.89,299.33 L564.03,298.27 L566.18,297.2 L568.32,296.12 L570.46,295.02 L572.61,293.91 L574.75,292.78 L576.89,291.62 L579.03,290.42 L581.18,289.18 L583.32,287.91 L585.46,286.58 L587.61,285.2 L589.75,283.76 L591.89,282.27 L594.04,280.72 L596.18,279.11 L598.32,277.44 L600.46,275.73 L602.61,273.95 L604.75,272.13 L606.89,270.25 L609.04,268.32 L611.18,266.33 L613.32,264.3 L615.47,262.22 L617.61,260.09 L619.75,257.94 L621.9,255.76 L624.04,253.56 L626.18,251.36 L628.32,249.16 L630.47,246.96 L632.61,244.79 L634.75,242.64 L636.9,240.53 L639.04,238.47 L641.18,236.45 L643.31,234.5 L645.4,232.61 L647.45,230.8 L649.45,229.08 L651.36,227.44 L653.19,225.9 L654.91,224.47 L656.52,223.15 L657.99,221.95 L659.31,220.88 L660.47,219.95 L661.46,219.16 L662.28,218.5 L662.95,217.96 L663.49,217.52 L663.91,217.18 L664.22,216.93 L664.45,216.75 L664.6,216.63 L664.69,216.55 L664.74,216.52 L664.75,216.5 L664.76,216.5" fill="none" stroke="#3f7fe6" stroke-width="0.75"/>
<path d="M517.4,324.5 L517.4,324.5 L517.4,324.5 L517.42,324.49 L517.44,324.48 L517.47,324.46 L517.52,324.44 L517.6,324.4 L517.69,324.35 L517.82,324.29 L517.97,324.21 L518.16,324.11 L518.39,324 L518.65,323.86 L518.96,323.71 L519.31,323.53 L519.71,323.32 L520.14,323.09 L520.63,322.84 L521.15,322.56 L521.72,322.25 L522.34,321.91 L523,321.54 L523.71,321.15 L524.47,320.72 L525.28,320.25 L526.14,319.76 L527.05,319.22 L528.02,318.65 L529.06,318.04 L530.16,317.39 L531.32,316.69 L532.56,315.95 L533.88,315.16 L535.28,314.33 L536.75,313.44 L538.32,312.5 L539.97,311.51 L541.7,310.46 L543.51,309.38 L545.38,308.24 L547.31,307.08 L549.3,305.88 L551.33,304.64 L553.4,303.39 L555.49,302.11 L557.61,300.82 L559.75,299.51 L561.89,298.2 L564.03,296.88 L566.18,295.56 L568.32,294.22 L570.46,292.88 L572.61,291.52 L574.75,290.14 L576.89,288.75 L579.03,287.34 L581.18,285.91 L583.32,284.45 L585.46,282.96 L587.61,281.45 L589.75,279.9 L591.89,278.32 L594.04,276.7 L596.18,275.04 L598.32,273.33 L600.46,271.57 L602.61,269.75 L604.75,267.88 L606.89,265.94 L609.04,263.93 L611.18,261.85 L613.32,259.7 L615.47,257.47 L617.61,255.17 L619.75,252.82 L621.9,250.42 L624.04,247.98 L626.18,245.53 L628.32,243.06 L630.47,240.59 L632.61,238.13 L634.75,235.69 L636.9,233.28 L639.04,230.92 L641.18,228.61 L643.31,226.36 L645.4,224.19 L647.45,222.11 L649.45,220.11 L651.36,218.22 L653.19,216.43 L654.91,214.77 L656.52,213.24 L657.99,211.85 L659.31,210.6 L660.47,209.52 L661.46,208.59 L662.28,207.82 L662.95,207.19 L663.49,206.69 L663.91,206.3 L664.22,206 L664.45,205.79 L664.6,205.65 L664.69,205.56 L664.74,205.52 L664.75,205.5 L664.76,205.5" fill="none" stroke="#4cb57c" stroke-width="0.75"/>
<path d="M517.4,326.3 L517.4,326.3 L517.4,326.3 L517.42,326.29 L517.44,326.28 L517.47,326.26 L517.52,326.23 L517.6,326.18 L517.69,326.13 L517.82,326.05 L517.97,325.96 L518.16,325.85 L518.39,325.72 L518.65,325.56 L518.96,325.38 L519.31,325.17 L519.71,324.94 L520.14,324.68 L520.63,324.4 L521.15,324.1 L521.72,323.77 L522.34,323.42 L523,323.04 L523.71,322.64 L524.47,322.22 L525.28,321.77 L526.14,321.29 L527.05,320.79 L528.02,320.26 L529.06,319.7 L530.16,319.11 L531.32,318.49 L532.56,317.84 L533.88,317.15 L535.28,316.42 L536.75,315.66 L538.32,314.87 L539.97,314.03 L541.7,313.16 L543.51,312.26 L545.38,311.33 L547.31,310.38 L549.3,309.42 L551.33,308.44 L553.4,307.44 L555.49,306.45 L557.61,305.45 L559.75,304.45 L561.89,303.47 L564.03,302.49 L566.18,301.51 L568.32,300.54 L570.46,299.55 L572.61,298.55 L574.75,297.53 L576.89,296.48 L579.03,295.39 L581.18,294.26 L583.32,293.08 L585.46,291.85 L587.61,290.55 L589.75,289.19 L591.89,287.75 L594.04,286.25 L596.18,284.67 L598.32,283.02 L600.46,281.29 L602.61,279.49 L604.75,277.61 L606.89,275.65 L609.04,273.61 L611.18,271.49 L613.32,269.28 L615.47,267 L617.61,264.65 L619.75,262.25 L621.9,259.82 L624.04,257.37 L626.18,254.93 L628.32,252.51 L630.47,250.13 L632.61,247.81 L634.75,245.56 L636.9,243.4 L639.04,241.35 L641.18,239.43 L643.31,237.63 L645.4,235.95 L647.45,234.39 L649.45,232.96 L651.36,231.64 L653.19,230.43 L654.91,229.34 L656.52,228.36 L657.99,227.48 L659.31,226.71 L660.47,226.05 L661.46,225.49 L662.28,225.02 L662.95,224.63 L663.49,224.33 L663.91,224.09 L664.22,223.91 L664.45,223.78 L664.6,223.69 L664.69,223.64 L664.74,223.61 L664.75,223.6 L664.76,223.6" fill="none" stroke="#b57ff0" stroke-width="0.75"/>
<path d="M517.4,328.1 L517.4,328.1 L517.4,328.1 L517.42,328.09 L517.44,328.08 L517.47,328.07 L517.52,328.04 L517.6,328 L517.69,327.96 L517.82,327.9 L517.97,327.82 L518.16,327.73 L518.39,327.62 L518.65,327.49 L518.96,327.33 L519.31,327.16 L519.71,326.97 L520.14,326.75 L520.63,326.52 L521.15,326.26 L521.72,325.98 L522.34,325.67 L523,325.34 L523.71,324.99 L524.47,324.62 L525.28,324.22 L526.14,323.79 L527.05,323.34 L528.02,322.86 L529.06,322.35 L530.16,321.81 L531.32,321.24 L532.56,320.63 L533.88,319.99 L535.28,319.31 L536.75,318.6 L538.32,317.85 L539.97,317.06 L541.7,316.23 L543.51,315.38 L545.38,314.49 L547.31,313.58 L549.3,312.65 L551.33,311.7 L553.4,310.74 L555.49,309.77 L557.61,308.8 L559.75,307.82 L561.89,306.85 L564.03,305.88 L566.18,304.92 L568.32,303.96 L570.46,303 L572.61,302.03 L574.75,301.06 L576.89,300.09 L579.03,299.11 L581.18,298.12 L583.32,297.12 L585.46,296.1 L587.61,295.07 L589.75,294.01 L591.89,292.93 L594.04,291.8 L596.18,290.62 L598.32,289.38 L600.46,288.05 L602.61,286.63 L604.75,285.1 L606.89,283.46 L609.04,281.69 L611.18,279.78 L613.32,277.72 L615.47,275.49 L617.61,273.12 L619.75,270.64 L621.9,268.05 L624.04,265.39 L626.18,262.68 L628.32,259.94 L630.47,257.19 L632.61,254.47 L634.75,251.78 L636.9,249.15 L639.04,246.62 L641.18,244.18 L643.31,241.86 L645.4,239.66 L647.45,237.58 L649.45,235.62 L651.36,233.79 L653.19,232.08 L654.91,230.52 L656.52,229.09 L657.99,227.8 L659.31,226.66 L660.47,225.67 L661.46,224.82 L662.28,224.12 L662.95,223.55 L663.49,223.09 L663.91,222.73 L664.22,222.46 L664.45,222.27 L664.6,222.14 L664.69,222.06 L664.74,222.02 L664.75,222 L664.76,222" fill="none" stroke="#d6a32a" stroke-width="0.75"/>
<rect x="515.45" y="331.05" width="3.9" height="3.9" fill="#fff" stroke="#666666" stroke-width="0.8"/>
<rect x="521.36" y="329.25" width="3.9" height="3.9" fill="#fff" stroke="#666666" stroke-width="0.8"/>
<rect x="534.22" y="323.65" width="3.9" height="3.9" fill="#fff" stroke="#666666" stroke-width="0.8"/>
<rect x="547.08" y="317.25" width="3.9" height="3.9" fill="#fff" stroke="#666666" stroke-width="0.8"/>
<rect x="559.94" y="311.45" width="3.9" height="3.9" fill="#fff" stroke="#666666" stroke-width="0.8"/>
<rect x="572.8" y="307.15" width="3.9" height="3.9" fill="#fff" stroke="#666666" stroke-width="0.8"/>
<rect x="585.66" y="302.85" width="3.9" height="3.9" fill="#fff" stroke="#666666" stroke-width="0.8"/>
<rect x="598.51" y="298.25" width="3.9" height="3.9" fill="#fff" stroke="#666666" stroke-width="0.8"/>
<rect x="611.37" y="287.35" width="3.9" height="3.9" fill="#fff" stroke="#666666" stroke-width="0.8"/>
<rect x="624.23" y="274.55" width="3.9" height="3.9" fill="#fff" stroke="#666666" stroke-width="0.8"/>
<rect x="637.09" y="257.55" width="3.9" height="3.9" fill="#fff" stroke="#666666" stroke-width="0.8"/>
<rect x="649.95" y="245.35" width="3.9" height="3.9" fill="#fff" stroke="#666666" stroke-width="0.8"/>
<rect x="662.81" y="234.45" width="3.9" height="3.9" fill="#fff" stroke="#666666" stroke-width="0.8"/>
<circle cx="517.4" cy="327.5" r="2.35" fill="#fff" stroke="#f26a6a" stroke-width="0.8"/>
<circle cx="523.31" cy="324.2" r="2.35" fill="#fff" stroke="#f26a6a" stroke-width="0.8"/>
<circle cx="536.17" cy="316.5" r="2.35" fill="#fff" stroke="#f26a6a" stroke-width="0.8"/>
<circle cx="561.89" cy="301.2" r="2.35" fill="#fff" stroke="#f26a6a" stroke-width="0.8"/>
<circle cx="587.61" cy="288" r="2.35" fill="#fff" stroke="#f26a6a" stroke-width="0.8"/>
<circle cx="613.32" cy="270.8" r="2.35" fill="#fff" stroke="#f26a6a" stroke-width="0.8"/>
<circle cx="639.04" cy="257.7" r="2.35" fill="#fff" stroke="#f26a6a" stroke-width="0.8"/>
<circle cx="664.76" cy="238.3" r="2.35" fill="#fff" stroke="#f26a6a" stroke-width="0.8"/>
<polygon points="517.4,321.25 520.01,325.79 514.79,325.79" fill="#fff" stroke="#3f7fe6" stroke-width="0.8"/>
<polygon points="523.31,317.25 525.93,321.79 520.7,321.79" fill="#fff" stroke="#3f7fe6" stroke-width="0.8"/>
<polygon points="536.17,309.45 538.79,313.99 533.56,313.99" fill="#fff" stroke="#3f7fe6" stroke-width="0.8"/>
<polygon points="561.89,296.55 564.5,301.09 559.28,301.09" fill="#fff" stroke="#3f7fe6" stroke-width="0.8"/>
<polygon points="587.61,283.85 590.22,288.39 584.99,288.39" fill="#fff" stroke="#3f7fe6" stroke-width="0.8"/>
<polygon points="613.32,262.75 615.94,267.29 610.71,267.29" fill="#fff" stroke="#3f7fe6" stroke-width="0.8"/>
<polygon points="639.04,234.45 641.65,238.99 636.43,238.99" fill="#fff" stroke="#3f7fe6" stroke-width="0.8"/>
<polygon points="664.76,213.75 667.37,218.29 662.14,218.29" fill="#fff" stroke="#3f7fe6" stroke-width="0.8"/>
<polygon points="517.4,327.25 520.01,322.71 514.79,322.71" fill="#fff" stroke="#4cb57c" stroke-width="0.8"/>
<polygon points="523.31,324.25 525.93,319.71 520.7,319.71" fill="#fff" stroke="#4cb57c" stroke-width="0.8"/>
<polygon points="536.17,316.55 538.79,312.01 533.56,312.01" fill="#fff" stroke="#4cb57c" stroke-width="0.8"/>
<polygon points="561.89,301.05 564.5,296.51 559.28,296.51" fill="#fff" stroke="#4cb57c" stroke-width="0.8"/>
<polygon points="587.61,284.95 590.22,280.41 584.99,280.41" fill="#fff" stroke="#4cb57c" stroke-width="0.8"/>
<polygon points="613.32,264.35 615.94,259.81 610.71,259.81" fill="#fff" stroke="#4cb57c" stroke-width="0.8"/>
<polygon points="639.04,232.35 641.65,227.81 636.43,227.81" fill="#fff" stroke="#4cb57c" stroke-width="0.8"/>
<polygon points="664.76,208.25 667.37,203.71 662.14,203.71" fill="#fff" stroke="#4cb57c" stroke-width="0.8"/>
<polygon points="517.4,323.55 520.15,326.3 517.4,329.05 514.65,326.3" fill="#fff" stroke="#b57ff0" stroke-width="0.8"/>
<polygon points="523.31,320.05 526.06,322.8 523.31,325.55 520.56,322.8" fill="#fff" stroke="#b57ff0" stroke-width="0.8"/>
<polygon points="536.17,313.05 538.92,315.8 536.17,318.55 533.42,315.8" fill="#fff" stroke="#b57ff0" stroke-width="0.8"/>
<polygon points="561.89,300.45 564.64,303.2 561.89,305.95 559.14,303.2" fill="#fff" stroke="#b57ff0" stroke-width="0.8"/>
<polygon points="587.61,289.45 590.36,292.2 587.61,294.95 584.86,292.2" fill="#fff" stroke="#b57ff0" stroke-width="0.8"/>
<polygon points="613.32,268.55 616.07,271.3 613.32,274.05 610.57,271.3" fill="#fff" stroke="#b57ff0" stroke-width="0.8"/>
<polygon points="639.04,235.55 641.79,238.3 639.04,241.05 636.29,238.3" fill="#fff" stroke="#b57ff0" stroke-width="0.8"/>
<polygon points="664.76,220.85 667.51,223.6 664.76,226.35 662.01,223.6" fill="#fff" stroke="#b57ff0" stroke-width="0.8"/>
<polygon points="514.65,328.1 519.19,325.49 519.19,330.71" fill="#fff" stroke="#d6a32a" stroke-width="0.8"/>
<polygon points="520.56,325.2 525.1,322.59 525.1,327.81" fill="#fff" stroke="#d6a32a" stroke-width="0.8"/>
<polygon points="533.42,318.8 537.96,316.19 537.96,321.41" fill="#fff" stroke="#d6a32a" stroke-width="0.8"/>
<polygon points="559.14,306.7 563.68,304.09 563.68,309.31" fill="#fff" stroke="#d6a32a" stroke-width="0.8"/>
<polygon points="584.86,295.5 589.39,292.89 589.39,298.11" fill="#fff" stroke="#d6a32a" stroke-width="0.8"/>
<polygon points="610.57,281.7 615.11,279.09 615.11,284.31" fill="#fff" stroke="#d6a32a" stroke-width="0.8"/>
<polygon points="636.29,244 640.83,241.39 640.83,246.61" fill="#fff" stroke="#d6a32a" stroke-width="0.8"/>
<polygon points="662.01,222 666.54,219.39 666.54,224.61" fill="#fff" stroke="#d6a32a" stroke-width="0.8"/>
<text x="510.2" y="211.8" font-size="11.3">LiMn<tspan font-size="7.9" dy="2.6">1-<tspan font-style="italic">x</tspan></tspan><tspan dy="-2.6">SbTe</tspan><tspan font-size="7.9" dy="2.6">3</tspan></text>
<line x1="512.7" y1="223.5" x2="533.2" y2="223.5" stroke="#666666" stroke-width="0.7"/>
<rect x="521.34" y="221.84" width="3.31" height="3.31" fill="#fff" stroke="#666666" stroke-width="0.8"/>
<text x="536.7" y="226.8" font-size="9.4"><tspan font-style="italic">x</tspan> = 0.00</text>
<line x1="512.7" y1="234.5" x2="533.2" y2="234.5" stroke="#f26a6a" stroke-width="0.7"/>
<circle cx="523" cy="234.5" r="2.35" fill="#fff" stroke="#f26a6a" stroke-width="0.8"/>
<text x="536.7" y="237.8" font-size="9.4"><tspan font-style="italic">x</tspan> = 0.02</text>
<line x1="512.7" y1="246.5" x2="533.2" y2="246.5" stroke="#3f7fe6" stroke-width="0.7"/>
<polygon points="523,243.75 525.61,248.29 520.39,248.29" fill="#fff" stroke="#3f7fe6" stroke-width="0.8"/>
<text x="536.7" y="249.8" font-size="9.4"><tspan font-style="italic">x</tspan> = 0.04</text>
<line x1="512.7" y1="258.5" x2="533.2" y2="258.5" stroke="#4cb57c" stroke-width="0.7"/>
<polygon points="523,261.25 525.61,256.71 520.39,256.71" fill="#fff" stroke="#4cb57c" stroke-width="0.8"/>
<text x="536.7" y="261.8" font-size="9.4"><tspan font-style="italic">x</tspan> = 0.06</text>
<line x1="512.7" y1="270.5" x2="533.2" y2="270.5" stroke="#b57ff0" stroke-width="0.7"/>
<polygon points="523,267.75 525.75,270.5 523,273.25 520.25,270.5" fill="#fff" stroke="#b57ff0" stroke-width="0.8"/>
<text x="536.7" y="273.8" font-size="9.4"><tspan font-style="italic">x</tspan> = 0.08</text>
<line x1="512.7" y1="281.5" x2="533.2" y2="281.5" stroke="#d6a32a" stroke-width="0.7"/>
<polygon points="520.25,281.5 524.79,278.89 524.79,284.11" fill="#fff" stroke="#d6a32a" stroke-width="0.8"/>
<text x="536.7" y="284.8" font-size="9.4"><tspan font-style="italic">x</tspan> = 0.10</text>
<text transform="translate(478.0,272.3) rotate(-90)" font-size="16" text-anchor="middle" font-style="italic">ZT</text>
</svg>
</body></html>
